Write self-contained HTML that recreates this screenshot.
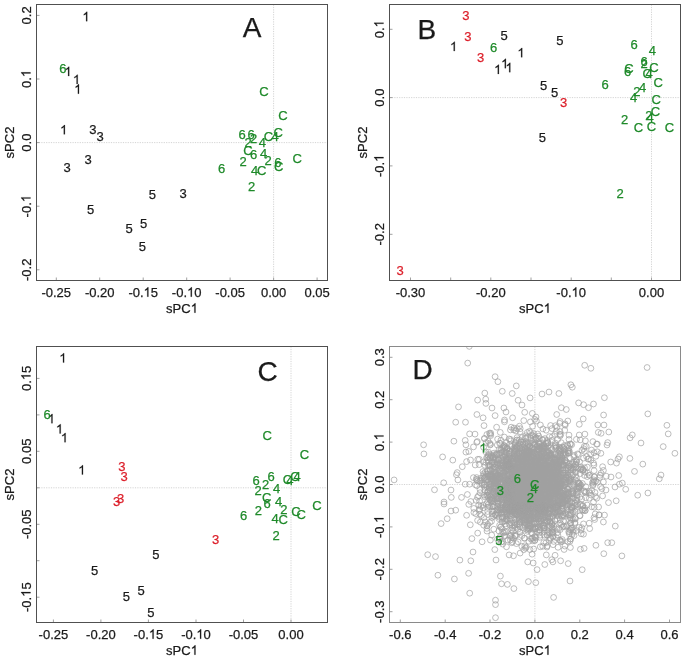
<!DOCTYPE html>
<html><head><meta charset="utf-8"><title>sPCA plots</title>
<style>html,body{margin:0;padding:0;background:#fff;}svg{display:block;will-change:transform;}text{font-family:"Liberation Sans",sans-serif;stroke:currentColor;stroke-width:0.25px;}</style>
</head><body>
<svg width="685" height="659" viewBox="0 0 685 659" font-family="Liberation Sans, sans-serif">
<defs><marker id="m" markerUnits="userSpaceOnUse" markerWidth="10" markerHeight="10" refX="5" refY="5" viewBox="0 0 10 10" overflow="visible"><circle cx="5" cy="5" r="2.9" fill="none" stroke="#a0a0a0" stroke-width="0.7"/></marker></defs>
<rect width="685" height="659" fill="#fff"/>
<line x1="36.5" y1="142.6" x2="327.5" y2="142.6" stroke="#cfcfcf" stroke-width="0.9" stroke-dasharray="1.2 1.2"/>
<line x1="273.6" y1="4.5" x2="273.6" y2="280.5" stroke="#cfcfcf" stroke-width="0.9" stroke-dasharray="1.2 1.2"/>
<line x1="56.3" y1="280.5" x2="56.3" y2="277.5" stroke="#a0a0a0" stroke-width="1"/>
<line x1="99.7" y1="280.5" x2="99.7" y2="277.5" stroke="#a0a0a0" stroke-width="1"/>
<line x1="143.2" y1="280.5" x2="143.2" y2="277.5" stroke="#a0a0a0" stroke-width="1"/>
<line x1="186.7" y1="280.5" x2="186.7" y2="277.5" stroke="#a0a0a0" stroke-width="1"/>
<line x1="230.1" y1="280.5" x2="230.1" y2="277.5" stroke="#a0a0a0" stroke-width="1"/>
<line x1="273.6" y1="280.5" x2="273.6" y2="277.5" stroke="#a0a0a0" stroke-width="1"/>
<line x1="317.1" y1="280.5" x2="317.1" y2="277.5" stroke="#a0a0a0" stroke-width="1"/>
<line x1="36.5" y1="269.8" x2="39.5" y2="269.8" stroke="#a0a0a0" stroke-width="1"/>
<line x1="36.5" y1="206.2" x2="39.5" y2="206.2" stroke="#a0a0a0" stroke-width="1"/>
<line x1="36.5" y1="142.6" x2="39.5" y2="142.6" stroke="#a0a0a0" stroke-width="1"/>
<line x1="36.5" y1="79.0" x2="39.5" y2="79.0" stroke="#a0a0a0" stroke-width="1"/>
<line x1="36.5" y1="15.4" x2="39.5" y2="15.4" stroke="#a0a0a0" stroke-width="1"/>
<rect x="36.5" y="4.5" width="291.0" height="276.0" fill="none" stroke="#505050" stroke-width="1"/>
<text x="41.46" y="296.70" font-size="13" fill="#1a1a1a" color="#1a1a1a">-0.25</text>
<text x="84.92" y="296.70" font-size="13" fill="#1a1a1a" color="#1a1a1a">-0.20</text>
<text x="128.39" y="296.70" font-size="13" fill="#1a1a1a" color="#1a1a1a">-0.</text><text x="150.79" y="296.70" font-size="13" fill="#1a1a1a" color="#1a1a1a">5</text><path d="M148.40 296.70L147.26 296.70L147.26 289.42Q146.85 289.81 146.18 290.21Q145.50 290.60 144.97 290.80L144.97 289.69Q145.93 289.24 146.65 288.60Q147.36 287.96 147.66 287.36L148.40 287.36Z" fill="#1a1a1a" stroke="#1a1a1a" stroke-width="0.2"/>
<text x="171.85" y="296.70" font-size="13" fill="#1a1a1a" color="#1a1a1a">-0.</text><text x="194.26" y="296.70" font-size="13" fill="#1a1a1a" color="#1a1a1a">0</text><path d="M191.87 296.70L190.73 296.70L190.73 289.42Q190.31 289.81 189.64 290.21Q188.97 290.60 188.43 290.80L188.43 289.69Q189.39 289.24 190.11 288.60Q190.83 287.96 191.13 287.36L191.87 287.36Z" fill="#1a1a1a" stroke="#1a1a1a" stroke-width="0.2"/>
<text x="215.32" y="296.70" font-size="13" fill="#1a1a1a" color="#1a1a1a">-0.05</text>
<text x="260.95" y="296.70" font-size="13" fill="#1a1a1a" color="#1a1a1a">0.00</text>
<text x="304.41" y="296.70" font-size="13" fill="#1a1a1a" color="#1a1a1a">0.05</text>
<g transform="translate(30.5,269.8) rotate(-90)"><text x="-11.20" y="0.00" font-size="13" fill="#1a1a1a" color="#1a1a1a">-0.2</text></g>
<g transform="translate(30.5,206.2) rotate(-90)"><text x="-11.20" y="0.00" font-size="13" fill="#1a1a1a" color="#1a1a1a">-0.</text><path d="M8.81 0.00L7.67 0.00L7.67 -7.28Q7.26 -6.89 6.59 -6.49Q5.91 -6.10 5.38 -5.90L5.38 -7.01Q6.34 -7.46 7.06 -8.10Q7.77 -8.74 8.07 -9.34L8.81 -9.34Z" fill="#1a1a1a" stroke="#1a1a1a" stroke-width="0.2"/></g>
<g transform="translate(30.5,142.6) rotate(-90)"><text x="-9.04" y="0.00" font-size="13" fill="#1a1a1a" color="#1a1a1a">0.0</text></g>
<g transform="translate(30.5,79.0) rotate(-90)"><text x="-9.04" y="0.00" font-size="13" fill="#1a1a1a" color="#1a1a1a">0.</text><path d="M6.65 0.00L5.51 0.00L5.51 -7.28Q5.09 -6.89 4.42 -6.49Q3.75 -6.10 3.22 -5.90L3.22 -7.01Q4.17 -7.46 4.89 -8.10Q5.61 -8.74 5.91 -9.34L6.65 -9.34Z" fill="#1a1a1a" stroke="#1a1a1a" stroke-width="0.2"/></g>
<g transform="translate(30.5,15.4) rotate(-90)"><text x="-9.04" y="0.00" font-size="13" fill="#1a1a1a" color="#1a1a1a">0.2</text></g>
<text x="166.11" y="312.70" font-size="13" fill="#1a1a1a" color="#1a1a1a">sPC</text><path d="M195.51 312.70L194.37 312.70L194.37 305.42Q193.95 305.81 193.28 306.21Q192.61 306.60 192.07 306.80L192.07 305.69Q193.03 305.24 193.75 304.60Q194.47 303.96 194.77 303.36L195.51 303.36Z" fill="#1a1a1a" stroke="#1a1a1a" stroke-width="0.2"/>
<g transform="translate(14.1,142.5) rotate(-90)"><text x="-15.89" y="0.00" font-size="13" fill="#1a1a1a" color="#1a1a1a">sPC2</text></g>
<path d="M87.22 21.17L86.08 21.17L86.08 13.89Q85.66 14.28 84.99 14.68Q84.32 15.07 83.78 15.27L83.78 14.16Q84.74 13.71 85.46 13.07Q86.18 12.43 86.48 11.83L87.22 11.83Z" fill="#1a1a1a" stroke="#1a1a1a" stroke-width="0.2"/>
<path d="M69.22 76.07L68.08 76.07L68.08 68.79Q67.66 69.18 66.99 69.58Q66.32 69.97 65.78 70.17L65.78 69.06Q66.74 68.61 67.46 67.97Q68.18 67.33 68.48 66.73L69.22 66.73Z" fill="#1a1a1a" stroke="#1a1a1a" stroke-width="0.2"/>
<path d="M77.72 84.07L76.58 84.07L76.58 76.79Q76.16 77.18 75.49 77.58Q74.82 77.97 74.28 78.17L74.28 77.06Q75.24 76.61 75.96 75.97Q76.68 75.33 76.98 74.73L77.72 74.73Z" fill="#1a1a1a" stroke="#1a1a1a" stroke-width="0.2"/>
<path d="M79.02 93.67L77.88 93.67L77.88 86.39Q77.46 86.78 76.79 87.18Q76.12 87.57 75.58 87.77L75.58 86.66Q76.54 86.21 77.26 85.57Q77.98 84.93 78.28 84.33L79.02 84.33Z" fill="#1a1a1a" stroke="#1a1a1a" stroke-width="0.2"/>
<path d="M64.92 134.37L63.78 134.37L63.78 127.09Q63.36 127.48 62.69 127.88Q62.02 128.27 61.48 128.47L61.48 127.36Q62.44 126.91 63.16 126.27Q63.88 125.63 64.18 125.03L64.92 125.03Z" fill="#1a1a1a" stroke="#1a1a1a" stroke-width="0.2"/>
<text x="89.29" y="134.10" font-size="13" fill="#1a1a1a" color="#1a1a1a">3</text>
<text x="96.48" y="141.40" font-size="13" fill="#1a1a1a" color="#1a1a1a">3</text>
<text x="84.39" y="163.70" font-size="13" fill="#1a1a1a" color="#1a1a1a">3</text>
<text x="63.48" y="172.20" font-size="13" fill="#1a1a1a" color="#1a1a1a">3</text>
<text x="86.98" y="214.40" font-size="13" fill="#1a1a1a" color="#1a1a1a">5</text>
<text x="148.69" y="199.20" font-size="13" fill="#1a1a1a" color="#1a1a1a">5</text>
<text x="179.48" y="198.30" font-size="13" fill="#1a1a1a" color="#1a1a1a">3</text>
<text x="125.48" y="232.60" font-size="13" fill="#1a1a1a" color="#1a1a1a">5</text>
<text x="140.08" y="228.40" font-size="13" fill="#1a1a1a" color="#1a1a1a">5</text>
<text x="138.78" y="250.70" font-size="13" fill="#1a1a1a" color="#1a1a1a">5</text>
<text x="59.18" y="72.70" font-size="13" fill="#1f8a2a" color="#1f8a2a">6</text>
<text x="259.31" y="96.40" font-size="13" fill="#1f8a2a" color="#1f8a2a">C</text>
<text x="278.31" y="120.30" font-size="13" fill="#1f8a2a" color="#1f8a2a">C</text>
<text x="273.61" y="136.80" font-size="13" fill="#1f8a2a" color="#1f8a2a">C</text>
<text x="238.38" y="139.40" font-size="13" fill="#1f8a2a" color="#1f8a2a">6</text>
<text x="247.48" y="138.70" font-size="13" fill="#1f8a2a" color="#1f8a2a">6</text>
<text x="249.98" y="143.10" font-size="13" fill="#1f8a2a" color="#1f8a2a">2</text>
<text x="244.38" y="147.00" font-size="13" fill="#1f8a2a" color="#1f8a2a">2</text>
<text x="258.69" y="146.80" font-size="13" fill="#1f8a2a" color="#1f8a2a">4</text>
<text x="263.81" y="141.20" font-size="13" fill="#1f8a2a" color="#1f8a2a">C</text>
<text x="271.38" y="140.50" font-size="13" fill="#1f8a2a" color="#1f8a2a">4</text>
<text x="243.31" y="155.30" font-size="13" fill="#1f8a2a" color="#1f8a2a">C</text>
<text x="250.08" y="158.60" font-size="13" fill="#1f8a2a" color="#1f8a2a">6</text>
<text x="259.88" y="158.20" font-size="13" fill="#1f8a2a" color="#1f8a2a">4</text>
<text x="239.38" y="165.70" font-size="13" fill="#1f8a2a" color="#1f8a2a">2</text>
<text x="264.38" y="165.30" font-size="13" fill="#1f8a2a" color="#1f8a2a">2</text>
<text x="274.19" y="166.60" font-size="13" fill="#1f8a2a" color="#1f8a2a">6</text>
<text x="274.01" y="171.40" font-size="13" fill="#1f8a2a" color="#1f8a2a">C</text>
<text x="292.41" y="162.50" font-size="13" fill="#1f8a2a" color="#1f8a2a">C</text>
<text x="250.98" y="174.80" font-size="13" fill="#1f8a2a" color="#1f8a2a">4</text>
<text x="257.11" y="175.20" font-size="13" fill="#1f8a2a" color="#1f8a2a">C</text>
<text x="247.98" y="190.90" font-size="13" fill="#1f8a2a" color="#1f8a2a">2</text>
<text x="217.88" y="172.80" font-size="13" fill="#1f8a2a" color="#1f8a2a">6</text>
<text x="242.66" y="37.45" font-size="28" fill="#1a1a1a" color="#1a1a1a">A</text>
<line x1="389.5" y1="97.6" x2="680.5" y2="97.6" stroke="#cfcfcf" stroke-width="0.9" stroke-dasharray="1.2 1.2"/>
<line x1="651.5" y1="4.5" x2="651.5" y2="280.5" stroke="#cfcfcf" stroke-width="0.9" stroke-dasharray="1.2 1.2"/>
<line x1="410.5" y1="280.5" x2="410.5" y2="277.5" stroke="#a0a0a0" stroke-width="1"/>
<line x1="450.7" y1="280.5" x2="450.7" y2="277.5" stroke="#a0a0a0" stroke-width="1"/>
<line x1="490.8" y1="280.5" x2="490.8" y2="277.5" stroke="#a0a0a0" stroke-width="1"/>
<line x1="531.0" y1="280.5" x2="531.0" y2="277.5" stroke="#a0a0a0" stroke-width="1"/>
<line x1="571.2" y1="280.5" x2="571.2" y2="277.5" stroke="#a0a0a0" stroke-width="1"/>
<line x1="611.3" y1="280.5" x2="611.3" y2="277.5" stroke="#a0a0a0" stroke-width="1"/>
<line x1="651.5" y1="280.5" x2="651.5" y2="277.5" stroke="#a0a0a0" stroke-width="1"/>
<line x1="389.5" y1="234.3" x2="392.5" y2="234.3" stroke="#a0a0a0" stroke-width="1"/>
<line x1="389.5" y1="165.9" x2="392.5" y2="165.9" stroke="#a0a0a0" stroke-width="1"/>
<line x1="389.5" y1="97.6" x2="392.5" y2="97.6" stroke="#a0a0a0" stroke-width="1"/>
<line x1="389.5" y1="29.3" x2="392.5" y2="29.3" stroke="#a0a0a0" stroke-width="1"/>
<rect x="389.5" y="4.5" width="291.0" height="276.0" fill="none" stroke="#505050" stroke-width="1"/>
<text x="395.69" y="296.70" font-size="13" fill="#1a1a1a" color="#1a1a1a">-0.30</text>
<text x="476.02" y="296.70" font-size="13" fill="#1a1a1a" color="#1a1a1a">-0.20</text>
<text x="556.35" y="296.70" font-size="13" fill="#1a1a1a" color="#1a1a1a">-0.</text><text x="578.76" y="296.70" font-size="13" fill="#1a1a1a" color="#1a1a1a">0</text><path d="M576.37 296.70L575.23 296.70L575.23 289.42Q574.81 289.81 574.14 290.21Q573.47 290.60 572.93 290.80L572.93 289.69Q573.89 289.24 574.61 288.60Q575.33 287.96 575.63 287.36L576.37 287.36Z" fill="#1a1a1a" stroke="#1a1a1a" stroke-width="0.2"/>
<text x="638.85" y="296.70" font-size="13" fill="#1a1a1a" color="#1a1a1a">0.00</text>
<g transform="translate(383.5,234.3) rotate(-90)"><text x="-11.20" y="0.00" font-size="13" fill="#1a1a1a" color="#1a1a1a">-0.2</text></g>
<g transform="translate(383.5,165.9) rotate(-90)"><text x="-11.20" y="0.00" font-size="13" fill="#1a1a1a" color="#1a1a1a">-0.</text><path d="M8.81 0.00L7.67 0.00L7.67 -7.28Q7.26 -6.89 6.59 -6.49Q5.91 -6.10 5.38 -5.90L5.38 -7.01Q6.34 -7.46 7.06 -8.10Q7.77 -8.74 8.07 -9.34L8.81 -9.34Z" fill="#1a1a1a" stroke="#1a1a1a" stroke-width="0.2"/></g>
<g transform="translate(383.5,97.6) rotate(-90)"><text x="-9.04" y="0.00" font-size="13" fill="#1a1a1a" color="#1a1a1a">0.0</text></g>
<g transform="translate(383.5,29.3) rotate(-90)"><text x="-9.04" y="0.00" font-size="13" fill="#1a1a1a" color="#1a1a1a">0.</text><path d="M6.65 0.00L5.51 0.00L5.51 -7.28Q5.09 -6.89 4.42 -6.49Q3.75 -6.10 3.22 -5.90L3.22 -7.01Q4.17 -7.46 4.89 -8.10Q5.61 -8.74 5.91 -9.34L6.65 -9.34Z" fill="#1a1a1a" stroke="#1a1a1a" stroke-width="0.2"/></g>
<text x="519.11" y="312.70" font-size="13" fill="#1a1a1a" color="#1a1a1a">sPC</text><path d="M548.51 312.70L547.37 312.70L547.37 305.42Q546.95 305.81 546.28 306.21Q545.61 306.60 545.07 306.80L545.07 305.69Q546.03 305.24 546.75 304.60Q547.47 303.96 547.77 303.36L548.51 303.36Z" fill="#1a1a1a" stroke="#1a1a1a" stroke-width="0.2"/>
<g transform="translate(367.1,142.5) rotate(-90)"><text x="-15.89" y="0.00" font-size="13" fill="#1a1a1a" color="#1a1a1a">sPC2</text></g>
<path d="M454.82 51.07L453.68 51.07L453.68 43.79Q453.26 44.18 452.59 44.58Q451.92 44.97 451.38 45.17L451.38 44.06Q452.34 43.61 453.06 42.97Q453.78 42.33 454.08 41.73L454.82 41.73Z" fill="#1a1a1a" stroke="#1a1a1a" stroke-width="0.2"/>
<text x="500.58" y="40.30" font-size="13" fill="#1a1a1a" color="#1a1a1a">5</text>
<path d="M522.22 57.27L521.08 57.27L521.08 49.99Q520.66 50.38 519.99 50.78Q519.32 51.17 518.78 51.37L518.78 50.26Q519.74 49.81 520.46 49.17Q521.18 48.53 521.48 47.93L522.22 47.93Z" fill="#1a1a1a" stroke="#1a1a1a" stroke-width="0.2"/>
<path d="M498.92 73.97L497.78 73.97L497.78 66.69Q497.36 67.08 496.69 67.48Q496.02 67.87 495.48 68.07L495.48 66.96Q496.44 66.51 497.16 65.87Q497.88 65.23 498.18 64.63L498.92 64.63Z" fill="#1a1a1a" stroke="#1a1a1a" stroke-width="0.2"/>
<path d="M505.92 68.17L504.78 68.17L504.78 60.89Q504.36 61.28 503.69 61.68Q503.02 62.07 502.48 62.27L502.48 61.16Q503.44 60.71 504.16 60.07Q504.88 59.43 505.18 58.83L505.92 58.83Z" fill="#1a1a1a" stroke="#1a1a1a" stroke-width="0.2"/>
<path d="M510.32 72.17L509.18 72.17L509.18 64.89Q508.76 65.28 508.09 65.68Q507.42 66.07 506.88 66.27L506.88 65.16Q507.84 64.71 508.56 64.07Q509.28 63.43 509.58 62.83L510.32 62.83Z" fill="#1a1a1a" stroke="#1a1a1a" stroke-width="0.2"/>
<text x="556.28" y="45.20" font-size="13" fill="#1a1a1a" color="#1a1a1a">5</text>
<text x="540.09" y="90.10" font-size="13" fill="#1a1a1a" color="#1a1a1a">5</text>
<text x="550.99" y="97.40" font-size="13" fill="#1a1a1a" color="#1a1a1a">5</text>
<text x="538.68" y="141.50" font-size="13" fill="#1a1a1a" color="#1a1a1a">5</text>
<text x="462.28" y="20.30" font-size="13" fill="#dc1f2a" color="#dc1f2a">3</text>
<text x="464.19" y="41.00" font-size="13" fill="#dc1f2a" color="#dc1f2a">3</text>
<text x="476.88" y="61.80" font-size="13" fill="#dc1f2a" color="#dc1f2a">3</text>
<text x="559.99" y="106.50" font-size="13" fill="#dc1f2a" color="#dc1f2a">3</text>
<text x="396.38" y="274.80" font-size="13" fill="#dc1f2a" color="#dc1f2a">3</text>
<text x="490.08" y="51.70" font-size="13" fill="#1f8a2a" color="#1f8a2a">6</text>
<text x="630.59" y="48.60" font-size="13" fill="#1f8a2a" color="#1f8a2a">6</text>
<text x="648.78" y="55.00" font-size="13" fill="#1f8a2a" color="#1f8a2a">4</text>
<text x="640.59" y="65.60" font-size="13" fill="#1f8a2a" color="#1f8a2a">6</text>
<text x="640.59" y="67.50" font-size="13" fill="#1f8a2a" color="#1f8a2a">2</text>
<text x="649.21" y="71.50" font-size="13" fill="#1f8a2a" color="#1f8a2a">C</text>
<text x="623.88" y="76.00" font-size="13" fill="#1f8a2a" color="#1f8a2a">6</text>
<text x="624.31" y="73.00" font-size="13" fill="#1f8a2a" color="#1f8a2a">C</text>
<text x="642.61" y="78.40" font-size="13" fill="#1f8a2a" color="#1f8a2a">C</text>
<text x="645.38" y="77.50" font-size="13" fill="#1f8a2a" color="#1f8a2a">4</text>
<text x="653.61" y="87.20" font-size="13" fill="#1f8a2a" color="#1f8a2a">C</text>
<text x="601.38" y="89.00" font-size="13" fill="#1f8a2a" color="#1f8a2a">6</text>
<text x="638.99" y="92.10" font-size="13" fill="#1f8a2a" color="#1f8a2a">4</text>
<text x="633.18" y="96.10" font-size="13" fill="#1f8a2a" color="#1f8a2a">2</text>
<text x="629.99" y="101.70" font-size="13" fill="#1f8a2a" color="#1f8a2a">4</text>
<text x="651.61" y="103.50" font-size="13" fill="#1f8a2a" color="#1f8a2a">C</text>
<text x="650.81" y="116.30" font-size="13" fill="#1f8a2a" color="#1f8a2a">C</text>
<text x="645.18" y="119.80" font-size="13" fill="#1f8a2a" color="#1f8a2a">2</text>
<text x="646.59" y="122.40" font-size="13" fill="#1f8a2a" color="#1f8a2a">4</text>
<text x="621.09" y="123.60" font-size="13" fill="#1f8a2a" color="#1f8a2a">2</text>
<text x="633.71" y="132.10" font-size="13" fill="#1f8a2a" color="#1f8a2a">C</text>
<text x="646.71" y="130.90" font-size="13" fill="#1f8a2a" color="#1f8a2a">C</text>
<text x="664.81" y="132.10" font-size="13" fill="#1f8a2a" color="#1f8a2a">C</text>
<text x="616.38" y="198.30" font-size="13" fill="#1f8a2a" color="#1f8a2a">2</text>
<text x="417.46" y="39.05" font-size="28" fill="#1a1a1a" color="#1a1a1a">B</text>
<line x1="36.5" y1="487.8" x2="327.5" y2="487.8" stroke="#cfcfcf" stroke-width="0.9" stroke-dasharray="1.2 1.2"/>
<line x1="291" y1="346.5" x2="291" y2="622.5" stroke="#cfcfcf" stroke-width="0.9" stroke-dasharray="1.2 1.2"/>
<line x1="53.4" y1="622.5" x2="53.4" y2="619.5" stroke="#a0a0a0" stroke-width="1"/>
<line x1="100.9" y1="622.5" x2="100.9" y2="619.5" stroke="#a0a0a0" stroke-width="1"/>
<line x1="148.4" y1="622.5" x2="148.4" y2="619.5" stroke="#a0a0a0" stroke-width="1"/>
<line x1="196.0" y1="622.5" x2="196.0" y2="619.5" stroke="#a0a0a0" stroke-width="1"/>
<line x1="243.5" y1="622.5" x2="243.5" y2="619.5" stroke="#a0a0a0" stroke-width="1"/>
<line x1="291.0" y1="622.5" x2="291.0" y2="619.5" stroke="#a0a0a0" stroke-width="1"/>
<line x1="36.5" y1="597.2" x2="39.5" y2="597.2" stroke="#a0a0a0" stroke-width="1"/>
<line x1="36.5" y1="560.7" x2="39.5" y2="560.7" stroke="#a0a0a0" stroke-width="1"/>
<line x1="36.5" y1="524.3" x2="39.5" y2="524.3" stroke="#a0a0a0" stroke-width="1"/>
<line x1="36.5" y1="487.8" x2="39.5" y2="487.8" stroke="#a0a0a0" stroke-width="1"/>
<line x1="36.5" y1="451.3" x2="39.5" y2="451.3" stroke="#a0a0a0" stroke-width="1"/>
<line x1="36.5" y1="414.9" x2="39.5" y2="414.9" stroke="#a0a0a0" stroke-width="1"/>
<line x1="36.5" y1="378.4" x2="39.5" y2="378.4" stroke="#a0a0a0" stroke-width="1"/>
<rect x="36.5" y="346.5" width="291.0" height="276.0" fill="none" stroke="#505050" stroke-width="1"/>
<text x="38.58" y="638.70" font-size="13" fill="#1a1a1a" color="#1a1a1a">-0.25</text>
<text x="86.10" y="638.70" font-size="13" fill="#1a1a1a" color="#1a1a1a">-0.20</text>
<text x="133.62" y="638.70" font-size="13" fill="#1a1a1a" color="#1a1a1a">-0.</text><text x="156.03" y="638.70" font-size="13" fill="#1a1a1a" color="#1a1a1a">5</text><path d="M153.64 638.70L152.50 638.70L152.50 631.42Q152.08 631.81 151.41 632.21Q150.74 632.60 150.20 632.80L150.20 631.69Q151.16 631.24 151.88 630.60Q152.60 629.96 152.90 629.36L153.64 629.36Z" fill="#1a1a1a" stroke="#1a1a1a" stroke-width="0.2"/>
<text x="181.14" y="638.70" font-size="13" fill="#1a1a1a" color="#1a1a1a">-0.</text><text x="203.55" y="638.70" font-size="13" fill="#1a1a1a" color="#1a1a1a">0</text><path d="M201.16 638.70L200.02 638.70L200.02 631.42Q199.60 631.81 198.93 632.21Q198.26 632.60 197.72 632.80L197.72 631.69Q198.68 631.24 199.40 630.60Q200.12 629.96 200.42 629.36L201.16 629.36Z" fill="#1a1a1a" stroke="#1a1a1a" stroke-width="0.2"/>
<text x="228.66" y="638.70" font-size="13" fill="#1a1a1a" color="#1a1a1a">-0.05</text>
<text x="278.35" y="638.70" font-size="13" fill="#1a1a1a" color="#1a1a1a">0.00</text>
<g transform="translate(30.5,597.2) rotate(-90)"><text x="-14.82" y="0.00" font-size="13" fill="#1a1a1a" color="#1a1a1a">-0.</text><text x="7.59" y="0.00" font-size="13" fill="#1a1a1a" color="#1a1a1a">5</text><path d="M5.20 0.00L4.06 0.00L4.06 -7.28Q3.64 -6.89 2.97 -6.49Q2.30 -6.10 1.76 -5.90L1.76 -7.01Q2.72 -7.46 3.44 -8.10Q4.16 -8.74 4.46 -9.34L5.20 -9.34Z" fill="#1a1a1a" stroke="#1a1a1a" stroke-width="0.2"/></g>
<g transform="translate(30.5,524.3) rotate(-90)"><text x="-14.82" y="0.00" font-size="13" fill="#1a1a1a" color="#1a1a1a">-0.05</text></g>
<g transform="translate(30.5,451.3) rotate(-90)"><text x="-12.65" y="0.00" font-size="13" fill="#1a1a1a" color="#1a1a1a">0.05</text></g>
<g transform="translate(30.5,378.4) rotate(-90)"><text x="-12.65" y="0.00" font-size="13" fill="#1a1a1a" color="#1a1a1a">0.</text><text x="5.42" y="0.00" font-size="13" fill="#1a1a1a" color="#1a1a1a">5</text><path d="M3.03 0.00L1.89 0.00L1.89 -7.28Q1.48 -6.89 0.81 -6.49Q0.13 -6.10 -0.40 -5.90L-0.40 -7.01Q0.56 -7.46 1.28 -8.10Q1.99 -8.74 2.29 -9.34L3.03 -9.34Z" fill="#1a1a1a" stroke="#1a1a1a" stroke-width="0.2"/></g>
<text x="166.11" y="654.70" font-size="13" fill="#1a1a1a" color="#1a1a1a">sPC</text><path d="M195.51 654.70L194.37 654.70L194.37 647.42Q193.95 647.81 193.28 648.21Q192.61 648.60 192.07 648.80L192.07 647.69Q193.03 647.24 193.75 646.60Q194.47 645.96 194.77 645.36L195.51 645.36Z" fill="#1a1a1a" stroke="#1a1a1a" stroke-width="0.2"/>
<g transform="translate(14.1,484.5) rotate(-90)"><text x="-15.89" y="0.00" font-size="13" fill="#1a1a1a" color="#1a1a1a">sPC2</text></g>
<path d="M64.12 362.57L62.98 362.57L62.98 355.29Q62.56 355.68 61.89 356.08Q61.22 356.47 60.68 356.67L60.68 355.56Q61.64 355.11 62.36 354.47Q63.08 353.83 63.38 353.23L64.12 353.23Z" fill="#1a1a1a" stroke="#1a1a1a" stroke-width="0.2"/>
<path d="M52.52 423.27L51.38 423.27L51.38 415.99Q50.96 416.38 50.29 416.78Q49.62 417.17 49.08 417.37L49.08 416.26Q50.04 415.81 50.76 415.17Q51.48 414.53 51.78 413.93L52.52 413.93Z" fill="#1a1a1a" stroke="#1a1a1a" stroke-width="0.2"/>
<path d="M60.72 433.47L59.58 433.47L59.58 426.19Q59.16 426.58 58.49 426.98Q57.82 427.37 57.28 427.57L57.28 426.46Q58.24 426.01 58.96 425.37Q59.68 424.73 59.98 424.13L60.72 424.13Z" fill="#1a1a1a" stroke="#1a1a1a" stroke-width="0.2"/>
<path d="M65.62 442.27L64.48 442.27L64.48 434.99Q64.06 435.38 63.39 435.78Q62.72 436.17 62.18 436.37L62.18 435.26Q63.14 434.81 63.86 434.17Q64.58 433.53 64.88 432.93L65.62 432.93Z" fill="#1a1a1a" stroke="#1a1a1a" stroke-width="0.2"/>
<path d="M83.02 474.57L81.88 474.57L81.88 467.29Q81.46 467.68 80.79 468.08Q80.12 468.47 79.58 468.67L79.58 467.56Q80.54 467.11 81.26 466.47Q81.98 465.83 82.28 465.23L83.02 465.23Z" fill="#1a1a1a" stroke="#1a1a1a" stroke-width="0.2"/>
<text x="152.19" y="558.50" font-size="13" fill="#1a1a1a" color="#1a1a1a">5</text>
<text x="90.89" y="575.00" font-size="13" fill="#1a1a1a" color="#1a1a1a">5</text>
<text x="137.48" y="595.30" font-size="13" fill="#1a1a1a" color="#1a1a1a">5</text>
<text x="122.69" y="601.00" font-size="13" fill="#1a1a1a" color="#1a1a1a">5</text>
<text x="147.28" y="617.00" font-size="13" fill="#1a1a1a" color="#1a1a1a">5</text>
<text x="118.29" y="470.50" font-size="13" fill="#dc1f2a" color="#dc1f2a">3</text>
<text x="120.48" y="481.40" font-size="13" fill="#dc1f2a" color="#dc1f2a">3</text>
<text x="116.98" y="502.50" font-size="13" fill="#dc1f2a" color="#dc1f2a">3</text>
<text x="112.98" y="505.50" font-size="13" fill="#dc1f2a" color="#dc1f2a">3</text>
<text x="212.08" y="543.70" font-size="13" fill="#dc1f2a" color="#dc1f2a">3</text>
<text x="43.59" y="418.50" font-size="13" fill="#1f8a2a" color="#1f8a2a">6</text>
<text x="262.51" y="439.50" font-size="13" fill="#1f8a2a" color="#1f8a2a">C</text>
<text x="299.71" y="458.50" font-size="13" fill="#1f8a2a" color="#1f8a2a">C</text>
<text x="252.38" y="484.70" font-size="13" fill="#1f8a2a" color="#1f8a2a">6</text>
<text x="267.49" y="480.70" font-size="13" fill="#1f8a2a" color="#1f8a2a">6</text>
<text x="261.99" y="489.30" font-size="13" fill="#1f8a2a" color="#1f8a2a">2</text>
<text x="254.58" y="494.90" font-size="13" fill="#1f8a2a" color="#1f8a2a">2</text>
<text x="272.88" y="493.10" font-size="13" fill="#1f8a2a" color="#1f8a2a">4</text>
<text x="282.81" y="484.40" font-size="13" fill="#1f8a2a" color="#1f8a2a">C</text>
<text x="286.28" y="484.50" font-size="13" fill="#1f8a2a" color="#1f8a2a">4</text>
<text x="290.31" y="480.50" font-size="13" fill="#1f8a2a" color="#1f8a2a">C</text>
<text x="293.49" y="480.90" font-size="13" fill="#1f8a2a" color="#1f8a2a">4</text>
<text x="261.91" y="501.70" font-size="13" fill="#1f8a2a" color="#1f8a2a">C</text>
<text x="263.49" y="507.50" font-size="13" fill="#1f8a2a" color="#1f8a2a">6</text>
<text x="274.88" y="506.30" font-size="13" fill="#1f8a2a" color="#1f8a2a">4</text>
<text x="254.69" y="514.60" font-size="13" fill="#1f8a2a" color="#1f8a2a">2</text>
<text x="239.88" y="519.50" font-size="13" fill="#1f8a2a" color="#1f8a2a">6</text>
<text x="280.28" y="514.20" font-size="13" fill="#1f8a2a" color="#1f8a2a">2</text>
<text x="271.49" y="522.80" font-size="13" fill="#1f8a2a" color="#1f8a2a">4</text>
<text x="278.61" y="523.50" font-size="13" fill="#1f8a2a" color="#1f8a2a">C</text>
<text x="291.31" y="515.50" font-size="13" fill="#1f8a2a" color="#1f8a2a">C</text>
<text x="296.51" y="518.50" font-size="13" fill="#1f8a2a" color="#1f8a2a">C</text>
<text x="312.21" y="510.10" font-size="13" fill="#1f8a2a" color="#1f8a2a">C</text>
<text x="272.58" y="540.30" font-size="13" fill="#1f8a2a" color="#1f8a2a">2</text>
<text x="257.59" y="381.25" font-size="28" fill="#1a1a1a" color="#1a1a1a">C</text>
<line x1="389.5" y1="484.5" x2="680.5" y2="484.5" stroke="#cfcfcf" stroke-width="0.9" stroke-dasharray="1.2 1.2"/>
<line x1="534.9" y1="346.5" x2="534.9" y2="622.5" stroke="#cfcfcf" stroke-width="0.9" stroke-dasharray="1.2 1.2"/>
<line x1="400.3" y1="622.5" x2="400.3" y2="619.5" stroke="#a0a0a0" stroke-width="1"/>
<line x1="445.2" y1="622.5" x2="445.2" y2="619.5" stroke="#a0a0a0" stroke-width="1"/>
<line x1="490.0" y1="622.5" x2="490.0" y2="619.5" stroke="#a0a0a0" stroke-width="1"/>
<line x1="534.9" y1="622.5" x2="534.9" y2="619.5" stroke="#a0a0a0" stroke-width="1"/>
<line x1="579.8" y1="622.5" x2="579.8" y2="619.5" stroke="#a0a0a0" stroke-width="1"/>
<line x1="624.6" y1="622.5" x2="624.6" y2="619.5" stroke="#a0a0a0" stroke-width="1"/>
<line x1="669.5" y1="622.5" x2="669.5" y2="619.5" stroke="#a0a0a0" stroke-width="1"/>
<line x1="389.5" y1="611.7" x2="392.5" y2="611.7" stroke="#a0a0a0" stroke-width="1"/>
<line x1="389.5" y1="569.3" x2="392.5" y2="569.3" stroke="#a0a0a0" stroke-width="1"/>
<line x1="389.5" y1="526.9" x2="392.5" y2="526.9" stroke="#a0a0a0" stroke-width="1"/>
<line x1="389.5" y1="484.5" x2="392.5" y2="484.5" stroke="#a0a0a0" stroke-width="1"/>
<line x1="389.5" y1="442.1" x2="392.5" y2="442.1" stroke="#a0a0a0" stroke-width="1"/>
<line x1="389.5" y1="399.7" x2="392.5" y2="399.7" stroke="#a0a0a0" stroke-width="1"/>
<line x1="389.5" y1="357.3" x2="392.5" y2="357.3" stroke="#a0a0a0" stroke-width="1"/>
<rect x="389.5" y="346.5" width="291.0" height="276.0" fill="none" stroke="#8a8a8a" stroke-width="1"/>
<text x="389.12" y="638.70" font-size="13" fill="#1a1a1a" color="#1a1a1a">-0.6</text>
<text x="433.98" y="638.70" font-size="13" fill="#1a1a1a" color="#1a1a1a">-0.4</text>
<text x="478.84" y="638.70" font-size="13" fill="#1a1a1a" color="#1a1a1a">-0.2</text>
<text x="525.86" y="638.70" font-size="13" fill="#1a1a1a" color="#1a1a1a">0.0</text>
<text x="570.72" y="638.70" font-size="13" fill="#1a1a1a" color="#1a1a1a">0.2</text>
<text x="615.58" y="638.70" font-size="13" fill="#1a1a1a" color="#1a1a1a">0.4</text>
<text x="660.44" y="638.70" font-size="13" fill="#1a1a1a" color="#1a1a1a">0.6</text>
<g transform="translate(383.5,611.7) rotate(-90)"><text x="-11.20" y="0.00" font-size="13" fill="#1a1a1a" color="#1a1a1a">-0.3</text></g>
<g transform="translate(383.5,569.3) rotate(-90)"><text x="-11.20" y="0.00" font-size="13" fill="#1a1a1a" color="#1a1a1a">-0.2</text></g>
<g transform="translate(383.5,526.9) rotate(-90)"><text x="-11.20" y="0.00" font-size="13" fill="#1a1a1a" color="#1a1a1a">-0.</text><path d="M8.81 0.00L7.67 0.00L7.67 -7.28Q7.26 -6.89 6.59 -6.49Q5.91 -6.10 5.38 -5.90L5.38 -7.01Q6.34 -7.46 7.06 -8.10Q7.77 -8.74 8.07 -9.34L8.81 -9.34Z" fill="#1a1a1a" stroke="#1a1a1a" stroke-width="0.2"/></g>
<g transform="translate(383.5,484.5) rotate(-90)"><text x="-9.04" y="0.00" font-size="13" fill="#1a1a1a" color="#1a1a1a">0.0</text></g>
<g transform="translate(383.5,442.1) rotate(-90)"><text x="-9.04" y="0.00" font-size="13" fill="#1a1a1a" color="#1a1a1a">0.</text><path d="M6.65 0.00L5.51 0.00L5.51 -7.28Q5.09 -6.89 4.42 -6.49Q3.75 -6.10 3.22 -5.90L3.22 -7.01Q4.17 -7.46 4.89 -8.10Q5.61 -8.74 5.91 -9.34L6.65 -9.34Z" fill="#1a1a1a" stroke="#1a1a1a" stroke-width="0.2"/></g>
<g transform="translate(383.5,399.7) rotate(-90)"><text x="-9.04" y="0.00" font-size="13" fill="#1a1a1a" color="#1a1a1a">0.2</text></g>
<g transform="translate(383.5,357.3) rotate(-90)"><text x="-9.04" y="0.00" font-size="13" fill="#1a1a1a" color="#1a1a1a">0.3</text></g>
<text x="519.11" y="654.70" font-size="13" fill="#1a1a1a" color="#1a1a1a">sPC</text><path d="M548.51 654.70L547.37 654.70L547.37 647.42Q546.95 647.81 546.28 648.21Q545.61 648.60 545.07 648.80L545.07 647.69Q546.03 647.24 546.75 646.60Q547.47 645.96 547.77 645.36L548.51 645.36Z" fill="#1a1a1a" stroke="#1a1a1a" stroke-width="0.2"/>
<g transform="translate(367.1,484.5) rotate(-90)"><text x="-15.89" y="0.00" font-size="13" fill="#1a1a1a" color="#1a1a1a">sPC2</text></g>
<clipPath id="dc"><rect x="389.5" y="346.5" width="291.0" height="276.0"/></clipPath><g clip-path="url(#dc)"><path d="M538.8 503.6 534.9 481.1 510.4 540.0 611.8 542.7 579.6 461.9 529.0 523.0 536.4 496.3 505.1 464.9 528.1 526.2 547.4 532.7 544.2 492.5 555.4 425.7 557.2 510.5 531.3 505.8 582.2 510.0 517.8 458.0 523.7 485.1 497.9 477.0 569.0 448.1 529.6 496.2 549.9 498.9 577.3 494.7 534.3 471.8 546.2 477.6 561.1 463.0 543.4 465.8 548.6 513.6 521.9 546.5 625.7 489.3 522.9 476.3 512.3 473.8 526.7 456.4 567.6 489.1 519.7 521.9 525.0 478.5 550.5 454.6 587.4 467.1 467.4 494.5 535.9 478.4 557.8 487.0 538.2 450.0 570.7 469.6 522.4 461.9 572.0 490.4 511.4 494.3 520.1 526.8 548.4 466.2 493.7 486.2 500.6 482.2 564.2 491.2 511.2 487.3 566.7 493.9 490.1 484.3 608.5 502.6 528.4 473.3 530.1 451.0 514.7 487.2 522.4 478.3 520.1 504.1 557.1 468.9 531.2 461.6 661 475 525.9 501.5 560.0 522.8 514.2 469.8 589.2 523.2 545.3 495.2 534.5 536.5 560.0 491.2 510.8 482.4 559.6 504.1 511.3 533.6 465.9 444.8 489.0 454.0 512.0 486.1 511.7 494.3 484.5 438.4 559.9 476.5 517.4 490.2 469.6 484.2 508.1 469.0 534.8 491.4 526.3 455.2 619.4 456.8 516.6 480.0 556.5 507.6 530.4 518.8 525.9 468.9 543.4 448.7 533.5 439.9 546.2 430.2 465.2 484.2 552.5 485.0 525.1 496.3 545.5 506.2 559.0 501.4 557.9 486.8 542.8 439.5 548.5 456.3 501.7 504.5 549.2 485.0 548.6 486.0 553.4 535.7 489.9 469.3 583.2 469.5 471.9 538.6 520.0 502.8 593.0 484.4 495.8 478.8 562.3 499.8 555.2 465.0 519.6 501.8 521.7 482.8 541.0 453.6 549.3 463.0 535.2 485.4 548.3 445.7 495.5 617.7 483.9 495.1 558.1 475.6 506.6 502.7 559.9 461.7 517.7 467.4 582.9 505.5 494.2 490.7 495.5 473.7 444 504 495.1 376.7 537.4 489.0 566.6 499.0 540.7 481.9 502.6 504.9 526.3 529.3 527.3 442.9 546.4 481.3 496.2 464.4 554.9 471.7 522.9 496.1 513.9 588.6 518.4 456.5 565.8 454.3 528.7 528.4 506.0 469.5 541.5 474.7 567.7 445.7 508.4 470.0 549.3 499.0 495.8 459.1 572.7 493.4 528.4 499.0 545.5 458.6 513.5 555.8 484.4 438.7 551.7 458.0 534.5 501.7 565.2 498.4 528.8 468.6 519.9 497.1 512.4 527.7 511.4 487.5 519.1 524.1 511.1 488.2 544.1 445.7 576.5 500.2 529.7 512.5 493.8 529.2 549.4 436.6 531.1 496.2 519.0 484.5 575.9 472.1 557.4 512.1 539.1 442.3 531.9 451.8 519.2 487.8 504.5 421.8 547.7 467.2 521.3 480.3 485.3 484.7 505.3 446.8 516.1 476.3 494.6 489.0 526.3 466.3 560.2 480.2 554.6 453.6 521.9 513.8 561.6 483.5 518.9 487.3 532.0 473.3 544.0 472.8 550.3 460.7 527.2 457.8 521.1 441.6 530.4 513.8 558.6 511.3 538.7 438.3 497.6 462.6 556.9 470.1 591.2 495.1 515.7 508.6 540.7 508.9 554.9 489.5 493.6 488.2 521.8 456.4 533.5 494.9 513.1 479.3 536.1 438.3 531.0 496.3 486.8 486.8 505.3 479.1 555.6 445.9 509.1 495.2 526.8 485.9 593.5 502.2 537.1 488.7 549.4 469.9 546.6 466.8 512.5 469.8 518.7 477.9 485.7 399.2 529.4 475.1 544.2 511.2 552.4 436.5 524.9 482.7 572.3 387.2 515.2 468.8 524.1 452.5 543.9 489.3 503.0 508.6 523.0 504.1 517.0 472.6 531.9 491.2 564.2 496.4 541.0 461.2 534.2 515.5 541.7 484.5 523.4 491.7 563.8 482.0 497.9 482.0 567.5 503.1 565.4 474.9 540.9 496.0 531.5 511.1 526.0 463.8 548.1 469.4 580.4 469.3 562.9 473.2 544.4 523.4 508.5 464.6 543.5 476.3 524.3 491.5 584.5 467.8 551.4 454.1 540.8 495.7 555.8 494.3 526.0 485.2 545.0 504.8 528.7 494.2 524.6 520.3 520.1 553.1 557.0 471.3 583.5 534.2 603.8 553.7 552.7 505.9 666.9 425.3 548.9 465.8 540.7 511.1 522.9 460.8 487.2 471.0 484.4 484.2 521.9 489.9 566.4 483.3 538.4 494.5 564.4 466.1 497.0 512.5 506.4 492.3 494.3 471.1 540.0 490.7 511.1 478.3 530.9 477.7 545.2 486.3 590.9 460.2 559.0 463.7 543.0 460.8 518.0 503.2 547.8 478.6 563.3 472.7 576.7 461.6 510.1 487.6 507.7 479.2 579.3 487.6 455.7 422.2 498.9 531.0 517.8 464.9 546.0 463.7 519.3 497.2 546.9 479.6 518.8 483.0 494.4 467.3 545.6 507.0 507.7 479.5 489.7 443.3 524.3 464.6 524.8 522.8 535.0 474.6 575.2 518.0 476.9 414.5 506.0 510.0 520.8 457.4 531.4 483.3 542.6 451.1 519.4 462.6 537.5 476.6 554.5 459.7 545.1 464.5 567.8 421.0 514.6 501.7 579.6 484.0 552.0 523.6 563.5 464.9 454.4 579.0 540.8 513.7 531.6 503.2 493.4 467.1 566.0 477.5 485.7 451.8 502.2 493.5 525.9 471.1 490.7 435.6 547.1 534.8 571.1 528.1 539.0 468.2 518.6 463.5 514.2 471.2 564.8 452.2 503.7 488.6 558.1 470.6 506 412 553.9 462.3 529.3 486.0 536.2 470.0 516.0 451.6 559.5 462.0 542.8 508.7 511.8 484.2 532.6 462.4 599.1 514.8 528.5 503.4 490.6 444.4 489.0 465.3 601.1 473.1 580.2 439.9 564.9 484.5 532.0 471.9 562.6 516.6 562.9 511.0 518.7 458.5 505.2 487.2 500.5 470.9 522.6 486.3 552.9 462.7 513.4 498.1 523.8 488.6 515.3 491.6 516.4 486.3 511.3 472.8 562.1 460.2 513.9 483.2 512.0 465.4 489.2 495.3 539.8 474.3 533.1 500.4 527.0 449.4 555.7 491.0 532.7 466.7 528.8 462.5 518.3 481.2 528.1 480.8 520.6 470.3 526.2 486.5 569.9 481.0 519.9 462.0 496.4 475.7 531.8 467.6 539.2 521.4 518.3 459.9 531.4 508.5 543.1 460.8 511.5 486.1 576.5 459.8 566.7 498.1 526.2 456.7 542.8 483.6 559.9 462.7 559.3 481.4 634.5 471.4 504.0 455.7 552.9 561.9 525.2 477.2 558.7 475.7 542.5 466.4 492.9 478.9 515.0 482.1 484.7 477.9 527.3 500.7 473.5 446.9 516.8 453.9 495.4 460.0 544.2 484.0 521.9 453.2 504.1 467.4 513.7 490.5 529.3 495.8 502.6 532.1 530.6 507.9 545.9 465.1 530.6 519.8 525.1 462.9 480.1 492.7 514.7 522.5 544.1 463.2 544.8 490.7 490.5 475.6 483.1 417.8 528.2 452.9 532.3 473.8 552.8 537.1 547.6 484.4 510.0 474.9 539.7 475.7 508.4 485.0 547.3 470.0 539.2 494.0 523.7 492.9 569.7 497.8 507.3 489.7 541.9 483.9 565.8 470.4 525.7 478.5 514.6 489.5 559.7 434.3 518.1 463.9 505.6 455.6 546.3 482.4 558.7 505.3 524.6 488.8 557.5 532.5 513.1 483.7 532.8 474.9 535.5 464.7 535.2 528.9 540.5 443.2 533.1 509.5 560.0 431.5 529.7 489.2 547.7 442.9 556.7 456.7 513.1 493.9 543.7 478.9 543.0 473.4 517.0 437.6 553.9 470.9 522.9 506.8 542.3 454.1 532.6 540.8 513.8 494.0 532.8 502.5 526.8 463.9 520.5 532.3 547.2 455.5 520.4 460.9 540.3 546.8 525.9 442.6 488.1 491.7 637.7 495.2 490.0 458.1 555.5 459.4 517.2 485.0 512.7 484.5 477.6 520.4 556.5 537.7 546.9 547.1 487.0 531.1 538.5 493.8 514.9 443.6 563.6 473.5 541.9 500.7 494.5 463.7 556.3 477.7 556.3 483.2 559.7 423.3 539.3 481.2 508.8 474.4 495.2 474.1 537.7 445.6 561.0 485.5 542.7 546.3 557.9 482.8 558.0 547.3 556.2 512.3 528.5 492.8 524.7 496.0 533.0 478.8 517.3 505.9 547.0 440.4 546.1 502.6 480.0 489.5 534.3 504.4 550.0 526.2 514.6 477.7 502.1 462.9 504.0 477.7 607 445 544.6 520.0 546.2 459.5 558.1 456.2 542.9 468.1 539.9 486.5 563.3 455.5 566.7 507.2 508.7 502.0 500.5 508.0 539.1 509.3 538.8 436.1 550.6 483.0 500.6 527.2 513.1 531.4 565.3 461.3 548.7 451.3 500.8 483.0 555.9 475.0 589.7 528.6 532.5 489.2 550.1 510.3 516.1 440.7 544.3 525.6 571.0 479.4 521.6 464.1 545.0 470.8 562.4 527.0 525.8 438.7 509.2 454.5 505.3 497.3 558.8 503.2 510.7 509.9 493.3 457.9 539.1 457.1 524.5 499.4 520.6 471.5 553.5 498.3 511.2 506.3 546.3 554.9 497.8 463.3 551.3 467.7 540.4 425.0 517.5 484.1 502.5 465.7 563.4 521.0 435.5 556.6 554.9 520.5 507.5 483.2 537.7 502.6 525.4 470.9 540.1 475.8 530.0 456.0 527.5 466.7 503.5 490.4 501.4 513.2 530.7 517.9 564.1 549.5 564.7 449.4 566.3 498.5 526.9 514.3 538.1 518.6 529.0 505.4 622.3 483.1 538.3 527.0 495.5 600.2 535.6 508.7 518.5 524.7 511.9 492.2 546.1 509.8 514.5 525.6 510.0 481.3 580.9 485.0 529.9 467.1 553.7 541.4 548.2 468.4 517.0 472.6 521.3 456.9 509.9 525.3 495.1 467.2 567.9 499.2 570.0 541.3 528.4 581.6 528.0 530.0 536.2 453.8 544.3 480.4 479.2 464.6 554.3 489.1 514.4 511.5 549.4 481.2 578.6 402.9 508.6 479.0 525.1 481.1 518.0 464.3 489.5 433.1 542.7 459.8 599.1 515.0 521.6 504.2 570.9 494.0 533.0 477.0 570.3 458.4 459.9 560.1 517.1 494.1 557.8 476.9 514.7 484.7 534.6 518.7 541.4 468.7 541.5 495.9 573.9 468.7 539.7 490.7 544.9 509.8 552.7 533.0 509.3 464.5 546.1 495.8 520.1 474.8 423.9 453.9 521.4 489.0 511.1 469.9 581.0 530.2 498.7 490.6 542.0 472.0 568.6 450.7 541.0 478.9 502.0 519.0 572.3 468.4 538.4 496.2 531.7 482.2 535.1 469.9 517.3 482.3 443.7 482.8 540.2 485.3 507.4 491.4 516.6 447.7 555.2 520.6 584.7 508.1 515.5 513.6 545.7 455.7 495.6 484.0 536 417 549.0 495.9 538.8 449.0 559.8 484.5 517.8 458.3 455.7 510.2 541.6 477.8 555.1 498.0 585.8 486.7 529.1 529.1 522.0 516.7 542.2 476.0 530.6 442.9 559.4 496.9 559.2 512.3 548.1 500.8 500.3 432.4 518.1 457.9 553.8 458.4 525.3 448.1 478.5 495.8 557.7 505.7 524.0 486.6 490.3 470.4 567.4 444.9 568.6 480.3 470.3 524.8 530.8 455.0 542.0 514.3 531.2 508.3 544.3 492.2 539.7 485.1 535.1 499.7 523.9 488.2 473 552 506.2 462.4 544.9 465.8 553.8 493.9 504.6 493.9 533.4 518.2 524.7 513.0 553.0 507.4 528.5 495.1 504.8 479.4 525.0 448.4 509.9 499.0 511.0 489.3 562.6 493.4 498.4 513.1 535.9 508.0 531.4 470.1 539.0 444.0 537.2 454.3 556.7 505.2 559.7 483.9 550.0 455.2 528.7 495.9 527.5 477.1 528.4 489.2 537.4 507.8 510.5 439.4 511.8 461.2 514.4 467.5 516.2 481.4 532.6 482.1 540.6 480.6 552.5 516.2 545.2 511.7 525.6 479.7 527.7 531.4 531.9 486.0 535.4 459.6 527.7 497.0 527.7 493.4 556.6 471.6 559.3 450.6 542.4 447.2 553.0 532.2 530.0 510.6 578.3 454.6 549.3 466.1 499.1 498.2 532.4 474.1 497.6 483.2 553.3 513.4 547.3 504.9 528.9 450.8 539.9 492.6 511.2 451.9 570.4 539.2 566.5 497.0 559.8 477.0 567.3 506.3 521.8 474.8 555.1 458.6 477.6 400.1 565.9 476.4 548.9 477.3 537.7 434.0 540.2 459.9 531.1 471.0 510.3 511.7 549.2 472.7 494.0 459.7 502.1 488.7 512.7 493.7 595.8 481.1 497.1 475.3 560.3 481.4 492.3 461.9 549.4 470.8 499.8 491.8 556.3 494.4 538.7 487.3 533.0 435.6 521.7 504.3 509.0 451.0 532.6 483.4 538.8 497.0 543.5 528.5 529.6 528.0 555.7 448.3 507.6 481.0 500.5 443.4 589.3 498.3 541.3 495.5 525.1 496.4 533.1 487.3 479.6 501.1 511.6 477.7 565.4 483.9 548.4 508.9 475.4 484.8 520.5 499.0 496.0 467.0 573.2 511.9 571.6 507.0 520.6 493.1 530.6 461.1 523.3 504.7 536.4 475.4 566.8 510.0 511.7 478.5 566.1 500.6 607.7 542.7 495.2 478.3 529.0 520.0 536.3 471.5 535.2 498.7 521.2 490.2 515.3 519.5 541.8 513.1 492 408 554.8 490.9 524.7 513.0 548.6 531.7 570.7 469.9 567.8 500.5 533.5 528.9 555.9 454.5 529.5 491.3 572.4 485.8 556.6 528.8 504.3 480.1 598.6 507.0 534.5 517.6 536.4 491.4 547.5 452.4 511.2 427.2 546.5 448.3 570.5 483.8 540.1 455.7 551.3 468.4 531.4 510.5 586.1 491.6 524.5 454.0 515.6 475.0 540.6 523.9 470.8 501.5 550.8 447.9 603.4 522.0 525.7 466.3 523.2 504.0 594.5 476.5 522.4 472.0 518.3 479.0 530.1 397.9 590.6 453.9 511.3 500.3 551.9 525.0 569.5 531.5 528.7 501.0 518.6 499.3 530.9 519.8 526.0 452.3 602.6 466.7 548.6 460.9 548.8 452.9 558.2 479.2 524.3 508.9 511.8 542.8 532.7 509.4 500.1 487.5 501.8 503.0 555.9 472.4 500.8 499.1 498.2 503.7 526.1 469.2 556.3 477.5 546.6 480.8 523.3 465.8 504.3 445.7 503.5 475.5 572.7 491.2 506.2 457.2 647.1 367.5 502.8 499.5 551.7 490.3 540.1 535.2 543.2 475.3 457.2 472.6 491.9 500.9 514.6 467.1 547.3 474.9 543.3 525.2 513.2 464.5 524.5 494.7 552.2 475.3 519.9 510.9 582.7 469.5 566.1 514.0 548.2 442.8 527.4 491.9 560.2 529.6 503.3 465.0 560.1 488.1 477.7 533.1 559.5 503.5 487.6 495.2 437.9 575.2 483.0 471.5 480.9 478.2 537.9 506.0 530.1 463.9 532.6 487.2 508.8 460.4 542.1 511.3 532.7 501.6 488.0 462.2 504.2 445.6 573.3 482.2 553.2 470.9 523.8 515.8 524.8 525.3 576.0 488.3 506.3 519.7 551.0 496.9 515.9 535.7 568.9 476.7 511.5 482.3 520.0 498.2 537.1 485.4 576.5 495.5 552.6 466.3 507.3 508.6 504.5 448.0 551.8 464.0 514.6 503.9 498.1 478.2 540.4 461.6 489.2 487.5 525.5 488.6 506.4 525.8 530.8 495.8 552.0 493.6 524.8 522.1 525.9 451.8 504.9 455.1 566.5 474.5 530.0 549.6 516.8 493.6 466.6 515.3 551.9 449.7 522.6 459.5 663.2 446.6 505.4 478.2 558.7 449.4 505.3 467.5 490.0 490.4 543.7 526.2 593.5 463.1 536.7 457.2 534.1 512.5 528.9 520.9 542.2 484.7 468.8 451.4 545.5 511.0 488.4 456.3 549.1 489.2 529.5 458.8 544.2 509.1 572.4 462.5 490.2 466.1 522.8 466.1 526.5 494.5 512.8 502.1 527.3 432.5 588.5 407.7 522.9 517.8 531.5 473.8 492.6 499.2 538.0 510.4 549.1 459.6 528.8 500.4 525.9 475.0 490.7 484.7 559.6 540.0 533.3 470.0 513.3 503.4 521.2 457.4 530.5 472.6 594.7 519.5 544.4 495.7 507.8 512.1 509.3 457.9 534.1 468.0 558.9 468.1 539.7 529.7 511.2 484.0 556.1 491.5 507.0 484.2 523.4 504.6 544.1 527.8 555.4 444.9 552.4 475.9 532.7 496.2 500.4 509.9 519.6 479.4 522.3 503.1 523.9 471.6 516.4 543.6 536.6 492.6 550.3 478.7 527.1 487.9 548.6 476.7 535.1 528.8 520.7 478.8 487.5 502.3 570.0 501.4 513.9 486.4 547.7 517.2 479.7 509.0 538.9 462.3 501.1 452.9 565.9 494.3 496.8 491.1 550.1 522.3 579.0 487.6 541.9 486.6 517.3 500.8 492.2 513.9 556.5 479.5 569.0 435.1 560.3 487.1 555.4 513.2 512.5 502.2 493.0 506.9 531.2 488.5 527.0 453.1 524.6 482.6 506.6 495.6 546.0 468.1 517.2 454.4 503.6 472.4 524.1 518.6 550.8 526.2 526.2 498.9 540.0 507.2 532.3 413.4 562.8 502.8 516.1 499.7 525.4 470.1 492.4 478.2 538.4 448.5 550.6 497.3 525.6 468.8 572.6 494.0 538.9 488.0 483.2 507.7 520.1 479.0 589.3 475.2 537.7 498.3 536.4 472.3 519.0 519.2 545.2 464.9 509.9 518.5 467.7 363.1 492.5 503.5 558.3 453.3 527.4 492.7 485.9 403.4 538.1 469.4 544.2 480.6 545.5 464.5 552.4 482.4 561.9 457.8 547.2 545.9 553.4 514.3 548.7 479.5 542.2 462.4 532.8 466.3 499.5 478.3 564.3 516.3 535.4 463.1 504.5 488.9 516.1 515.3 558.0 502.7 578.6 483.0 519.0 487.3 532.8 502.8 503.0 465.4 575.4 464.6 551.8 473.1 544.8 564.5 516.8 514.7 501.6 468.1 536.3 497.2 496 560 489.0 475.5 572.8 464.1 546.3 461.0 536.8 519.2 558.9 491.3 512.0 511.5 556.7 492.9 535.9 475.8 501.9 528.8 487.6 514.5 573.2 497.8 544.1 517.7 516.9 457.5 561.6 515.7 550.6 469.9 540.8 511.2 550.0 491.2 515.2 450.7 563.4 508.4 516.9 447.5 570.7 523.1 548.0 481.4 559.8 496.2 535.7 518.1 544.0 476.2 500.3 478.0 539.1 455.3 484.9 465.3 529.8 446.2 573.6 484.3 514.7 510.4 511.2 507.5 577.8 489.1 543.6 461.4 500.9 483.8 507.2 468.6 536.6 516.9 561.3 503.8 544.5 466.5 552.0 478.4 551.2 465.6 522.4 486.2 538.3 464.2 538.7 478.5 506.0 482.9 522.6 478.5 527.8 483.8 525.8 470.5 547.4 487.2 540.1 448.0 523.6 480.5 538.9 511.2 532.9 508.2 496.6 427.2 552.8 467.4 592.8 485.7 555.6 494.4 517.3 507.3 492.4 468.9 485.3 472.1 525.1 448.7 518.1 400.3 527.7 497.4 523.5 489.4 551.6 504.6 550.1 521.3 512.8 505.8 476.4 479.5 506.3 518.2 531.7 481.3 538.3 518.7 546.5 481.7 549.7 505.5 501.5 583.8 510.2 463.7 552.8 457.5 584.7 365.3 552.8 477.6 507.3 491.5 539.4 518.6 530.3 466.5 542 394 521.7 505.4 598.3 432.4 561.0 464.9 550.1 465.9 554.8 488.8 484.0 517.5 533.8 477.2 535.4 486.5 508.6 509.4 554.3 489.9 555.0 434.3 510.0 467.7 563.4 515.1 568.2 452.5 509.1 464.3 490.4 540.1 544.3 472.1 484.8 490.5 495.9 476.6 538.1 489.2 573.0 475.2 550.1 467.8 549.8 521.7 510.7 440.9 513.4 461.6 522.2 515.0 542.3 473.0 511.9 497.0 543.9 453.1 493.5 516.4 557.5 473.7 528.1 496.1 491.9 476.2 511.4 457.5 523.8 453.2 529.1 471.7 545.8 443.1 543.7 510.9 564.9 546.1 574.1 497.5 541.0 498.0 488.3 476.2 523.0 474.7 513.3 538.2 550.7 479.9 534.6 512.1 549.6 495.0 548.7 486.9 547.6 463.0 523.5 464.6 534.0 470.4 465.9 452.1 529.0 503.7 520.0 489.3 490.8 479.3 521.7 471.9 534.6 445.2 506.0 509.5 511.6 475.1 533.1 470.8 559.1 480.8 521.7 493.9 423.6 444.8 516.2 473.6 544.5 480.1 491.8 506.7 522.0 509.1 602.6 495.9 528.4 450.0 557.6 439.7 583.2 418.9 490.1 474.7 511.9 537.5 525.9 505.6 546.5 493.6 547.9 487.2 497.6 515.5 559.7 457.1 504.5 420.0 544.0 494.1 556.6 515.2 532.9 477.9 502.6 459.7 513.5 462.9 494.8 457.3 528.8 460.0 551.1 493.9 507.2 482.7 557.2 483.9 550.4 472.9 534.7 444.3 457.9 479.9 503.2 490.0 547.2 456.8 526.8 493.8 506.3 488.8 504.9 470.4 518.9 469.0 522.4 480.4 558.0 477.2 540.9 466.7 549.2 489.2 534.4 478.9 536.2 437.8 550.1 495.2 519.5 443.7 540.3 450.3 547.8 476.2 529.6 495.7 558.1 472.9 545.6 472.4 507.0 448.0 556.1 472.0 563.8 486.1 494.7 456.1 542.9 428.9 531.7 463.8 550.8 508.2 560.5 485.9 522.7 495.2 537.9 498.2 544.4 472.0 524.4 484.2 491.2 500.0 525.5 488.0 519.1 467.5 502.7 544.1 539.6 504.5 540.2 472.8 561.4 475.1 557.1 519.0 518.9 452.8 512.4 491.0 540.3 488.0 569.5 520.4 538.0 469.5 582.0 450.2 527.1 519.9 517.9 491.3 517.4 495.9 540.5 477.2 539.7 472.0 519.7 491.9 570.9 491.8 491.0 486.8 539.1 521.3 486.9 434.5 550.7 504.4 550.6 533.6 544.1 470.0 550.1 475.1 535.2 514.5 545.6 461.8 560.3 469.5 524.8 496.7 553.6 500.6 498.9 492.6 532.1 494.9 579.2 435.0 554.4 512.9 536.4 421.0 564.0 500.5 507.6 501.9 562.0 492.9 560.7 453.0 565.0 473.1 506.7 519.5 538.6 476.1 513.3 480.5 492.5 475.2 500.3 453.1 531.5 495.9 556.7 514.1 539.6 472.7 541.5 446.3 509.4 475.3 550.2 538.4 521.1 441.9 503.9 408.0 536.4 506.1 520.1 474.7 559.1 515.7 520.5 487.2 551.2 482.2 536.8 468.9 516.6 475.0 532.7 461.0 561.9 506.0 565.9 500.8 541.2 454.8 549.1 496.2 560.1 511.1 535.5 470.1 524.0 482.5 523.2 490.2 514.2 470.2 553.1 477.4 561.1 499.1 536.1 461.2 595.0 492.4 451 490 531.7 508.0 548.8 455.5 502.6 509.7 493.8 486.3 521.6 490.3 600.9 453.3 507.1 494.8 543.8 473.4 521.9 453.5 514.7 472.1 535.0 436.8 513.4 508.5 551.7 490.7 529.6 505.8 511.5 510.2 536.8 486.0 589.5 493.0 512.5 503.9 540.4 481.8 557.8 478.4 530.4 476.8 562.0 541.4 514.1 496.0 522.6 460.0 508.8 454.0 524.6 454.9 593.9 465.0 512.5 525.5 506.8 498.4 527.8 524.6 504.1 486.7 566.2 477.9 529.6 468.5 519.9 478.6 499.1 449.2 523.2 492.5 567.4 489.4 542.0 475.3 500.8 470.4 533.2 563.0 523.7 450.6 496.1 475.9 554.1 475.6 565.2 460.2 552.1 428.6 531.2 493.3 541.4 476.4 527.1 493.3 566.3 409.5 542.4 445.9 491.5 481.1 564.9 512.8 493.0 456.8 528.0 447.3 546.6 462.4 527.0 475.1 548.8 478.1 517.5 496.3 533.9 493.2 518.1 541.9 559.5 504.5 532.8 478.3 468.8 504.4 514.5 508.0 520.0 494.6 522.5 519.1 512.7 477.4 532.8 454.3 641 443 560.4 450.3 547.1 496.5 517.7 511.8 534.7 483.1 487.6 507.4 521.7 509.9 533.6 455.8 498.2 485.6 518.7 445.3 495.5 474.5 540.8 471.6 552.8 512.0 577.5 481.6 527.0 459.4 552.6 499.8 554.5 474.2 520.2 428.7 529.6 491.1 521.1 466.4 512.5 477.6 476.3 500.4 549.3 484.3 538.4 480.7 536.1 462.5 552.6 517.2 518.9 517.7 522.4 487.8 556.1 493.7 504.6 497.9 477.8 459.3 558.3 494.8 559.0 472.6 543.2 457.1 521.1 480.1 549.1 490.7 511.6 523.1 538.7 494.4 494.9 482.6 530.3 475.9 550.4 488.9 529.8 504.3 538.5 500.3 513.2 459.4 546.8 478.0 487.5 495.4 538.1 475.3 549.5 532.8 507.1 501.3 544.3 481.5 513.6 461.6 532.3 457.4 556.4 465.3 565.2 425.2 543.3 471.8 528.4 504.8 556.8 475.1 597.3 444.1 531.6 478.3 515.1 456.5 538.7 511.8 533.3 469.3 519.8 471.7 529.2 481.3 550.1 473.9 542.7 465.3 517.4 482.9 525.5 454.7 488.8 484.4 582.7 470.5 511.1 506.2 502.6 507.3 567.7 467.7 520.9 515.5 542.8 477.2 469.3 346.4 528.0 478.6 465.5 422.2 529.2 506.4 499.2 517.2 542.7 504.8 569.0 439.4 516.3 485.0 548.4 470.4 525.0 444.0 563.0 464.5 522.9 502.3 546.0 505.6 560.1 421.5 509.7 497.6 556.3 431.1 511.9 489.4 528.0 506.7 515.8 487.9 516.4 514.2 521.7 469.6 527.0 506.8 546.4 458.0 514.0 453.5 504.4 437.1 529.9 474.4 512.5 499.1 556.4 464.5 560.1 492.5 498.0 483.4 538.7 487.0 545.9 487.1 503.1 497.5 553.0 501.1 512.3 491.9 534.2 523.2 491.9 517.5 594.4 481.7 553.3 484.8 529.0 453.0 546.9 489.3 557.0 462.5 531.6 480.8 538.5 459.3 519.5 489.2 502.3 391.3 532.6 476.9 524.8 504.7 555.3 511.5 504.4 521.3 527.7 497.0 510.7 479.5 509.8 513.7 504.3 509.6 537.5 527.2 523.9 493.4 543.8 446.2 502.8 471.6 513.7 429.9 540.3 499.9 516.4 479.9 507.9 459.2 546.4 471.5 531.3 479.3 523.0 507.3 521.1 482.3 534.7 494.8 534.2 480.6 507.6 494.1 597.8 424.9 553.8 479.1 495.7 486.0 507.3 504.6 512.6 510.7 527.4 515.6 577.1 498.1 537.7 495.1 593.5 404.0 538.8 477.3 564.3 484.8 589.6 475.4 550.2 501.2 469.7 593.2 552.8 463.8 505.5 494.0 561.5 504.1 511.9 446.4 530.7 477.7 522.3 504.9 588.9 458.7 516.8 491.8 552.1 527.7 468.6 573.3 541.6 481.9 533.2 502.3 509.8 453.1 544.7 482.9 479.3 459.3 541.8 500.0 529.0 514.0 606 490 504.5 502.1 505.7 460.1 529.6 499.8 524.5 511.5 533.2 529.5 544.4 473.7 553.9 484.7 529.0 457.3 549.6 499.3 545.7 477.4 513.3 488.3 522.3 473.9 523.4 464.9 547.7 472.8 568.4 514.5 537.6 476.3 629.9 458.4 492.7 476.5 516.0 506.3 575.5 509.4 564.6 462.4 547.2 521.5 538.1 446.5 600.6 486.7 548.4 467.3 502.9 448.9 498.7 518.6 575.4 480.0 494.3 469.5 545.6 494.2 556.4 488.5 555.0 479.6 549.2 454.0 473.4 477.6 516.6 504.3 548.7 484.7 545.1 464.2 555.9 464.2 506.3 458.9 499.6 501.0 507.7 490.6 537.3 486.2 539.1 507.5 517.0 474.0 487.9 459.8 528.3 505.3 618 459 498.8 497.9 524.1 470.7 577.9 483.0 516.7 515.1 538.9 491.9 515.6 510.7 499.4 469.3 545.8 485.9 490.0 499.7 505.2 482.7 568.9 480.5 547.4 506.6 577.3 491.2 517.5 499.6 503.4 479.2 504.9 476.9 480.4 522.1 549 392 525.3 518.7 497.6 475.9 536.8 489.7 503.7 532.9 530.4 481.9 528.0 510.9 525.8 502.3 563.5 470.0 519.2 510.8 532.2 476.1 545.7 521.8 558.0 488.9 523.8 420.6 505.4 512.0 513.7 463.7 554.7 484.3 512.7 458.0 509.4 458.2 555.6 472.9 499.1 478.5 548.8 513.7 555.0 476.7 538.4 496.0 524.2 515.0 525.5 437.7 519.6 466.5 556.8 487.6 541.4 456.8 527.4 482.0 543.3 456.1 497.0 500.7 533.1 486.9 515.1 445.0 499.6 525.2 521.8 499.4 527.5 496.0 558.4 494.3 540.9 475.4 530.0 445.8 542.8 477.0 561.8 509.5 567.1 478.5 585.7 497.7 504.2 472.4 511.1 489.5 574.7 502.8 496.3 454.8 533.8 451.7 545.0 471.0 523.5 482.8 539.7 530.4 524.7 470.7 575.0 511.6 517.9 485.3 478.7 505.0 545.6 507.8 535.5 460.9 514.0 504.6 511.8 488.5 524.8 468.4 514.8 487.6 541.4 456.0 480.5 480.1 557.1 467.5 514.2 449.5 532.0 478.3 508.1 502.0 509.9 536.3 524.9 473.3 504.5 481.0 556.0 486.9 533.0 495.5 504.3 486.0 504.9 495.4 502.2 476.2 521.0 466.3 523.9 509.8 487.1 525.9 486.9 528.4 497.7 460.2 521.7 472.6 540.7 497.8 518.4 465.7 509.7 510.9 520.1 479.5 580.1 515.6 532.6 465.4 553.6 472.3 500.3 506.6 518.8 488.9 535.1 493.3 495.8 515.4 520.1 493.6 539.4 490.0 528.6 482.3 447.2 518.7 530.4 461.7 521.9 479.9 534.2 479.9 550.0 455.4 516.7 524.5 563.2 472.8 525.3 501.9 575.7 499.9 537.1 461.4 529.9 514.5 544.0 504.8 513.9 501.5 591.6 506.8 497.3 445.0 502.3 483.3 621.9 555.9 558.5 475.6 579.3 483.1 521.7 487.5 504.2 490.6 530.2 460.4 557.9 535.2 536.4 484.2 482.4 484.4 507.4 480.8 554.5 487.3 512.8 467.9 517.3 486.9 531.4 523.2 545.5 493.0 523.1 500.2 511.3 480.0 555.4 478.0 514.8 527.5 536.3 505.7 499.4 483.6 521.0 512.7 542.4 502.3 532.7 487.2 533.8 475.1 558.7 494.0 551.1 503.3 546.5 485.5 537.8 484.1 561.6 465.2 548.0 517.3 484.1 485.1 483.4 505.2 550.5 474.0 528.5 467.9 536.9 491.8 512.0 473.6 530.5 512.4 531.6 501.1 548.1 476.6 500.8 526.8 526.9 490.7 533.1 468.9 575.6 467.7 535.7 484.8 524.8 500.1 541.8 511.9 496.1 491.8 477.3 441.5 518.5 478.3 520.2 510.3 525.4 487.4 515.6 491.9 562.3 496.8 562.6 503.6 555.3 443.0 534.7 540.6 525.1 500.2 531.3 461.3 542.4 486.6 549.3 461.3 524.5 461.0 553.1 494.1 522.7 488.3 559.6 485.2 507.0 449.1 571.7 444.7 563.3 490.7 534.9 460.0 554.9 491.1 522.3 508.5 506.1 492.0 564.9 482.5 516.1 470.2 548.6 455.0 511.8 529.9 530.9 526.7 572.3 507.0 533.6 467.7 539.9 496.5 504.3 459.5 489.7 487.8 497.2 496.7 553.0 502.2 498.6 494.2 563.8 475.7 563.6 526.2 525.6 499.2 521.7 454.4 515.7 442.4 492.1 498.5 553.7 470.1 494.0 488.1 531.3 467.0 500.3 464.0 513.2 494.9 522.6 527.5 499.2 481.3 522.6 488.9 552.2 487.9 544.0 474.9 538.5 477.0 528.6 517.3 526.1 454.5 530.4 421.9 507.9 493.6 570.2 444.0 504.9 535.5 593.0 481.6 530.0 488.3 521.5 500.2 568.2 563.6 514.1 517.9 515.0 536.2 560.3 540.4 505.6 475.8 543.9 499.7 603.6 415.0 552.8 474.7 553.3 493.5 486.3 504.0 595.2 513.9 492.4 489.5 504.9 507.9 584.5 475.4 576.4 439.4 516.3 385.9 552.0 490.3 544.6 465.7 501.8 471.0 535.8 513.2 511.7 500.5 615.3 526.1 559.3 504.8 547.5 498.7 514.0 473.8 529.0 514.7 546.6 520.9 479.6 481.1 577.5 453.9 533.7 549.0 538.6 474.2 544.2 535.2 535.5 478.5 502.6 492.1 526.0 499.0 534.6 527.2 501.8 470.9 554.9 487.6 550.2 499.8 506.0 460.8 552.0 440.3 549.9 517.2 577.3 504.1 533.2 473.4 531.0 438.6 534.9 480.8 497.8 475.2 517.4 487.7 497.4 494.0 517.8 468.5 533.7 433.6 542.0 505.6 526.7 452.3 533.8 521.4 510.9 496.0 488.2 455.3 532.5 482.7 531.6 484.4 509.6 489.6 451.3 497.4 592.5 483.0 517.0 485.6 561.0 460.9 491.1 474.7 530.0 492.5 668.2 433.9 563.8 465.4 484.4 487.2 572.4 507.8 557.1 467.3 545.9 454.9 516.5 490.8 559.8 495.6 570.0 516.5 550.8 495.7 525.3 502.2 505.6 505.0 524.4 521.3 525.0 462.3 510.5 488.2 490.4 473.3 524.1 496.7 562.5 486.1 570.7 538.9 565.0 490.7 522.7 520.3 569.3 487.8 537.8 503.1 513.6 468.2 453.9 441.2 541.9 467.9 564.3 454.5 543.2 468.5 554.8 473.5 531.6 494.7 547.1 491.7 583.5 458.1 486.2 442.5 517.3 496.5 534.1 449.0 547.5 521.0 470.8 560.8 502.2 456.0 502.3 541.5 514.4 480.6 528.2 445.3 555.3 480.5 540.2 500.1 528.6 489.5 550.4 487.0 512.3 470.9 537.0 490.0 537.0 500.0 497.5 476.2 564.6 502.5 506.8 498.8 591.9 490.5 584.3 446.4 527.3 477.3 513.2 492.6 517.6 509.4 522.6 506.9 505.6 470.5 527.3 458.8 497.7 498.5 527.9 506.8 469.6 433.9 536.6 486.4 537.0 494.8 519.4 426.2 465.2 440.4 549.2 476.7 517.0 439.9 525.0 490.8 526.0 471.4 563.1 514.5 456.4 474.7 555.5 468.8 538.7 464.2 606.3 476.2 520.9 487.9 539.1 458.4 513.5 478.2 516.7 471.5 581.2 533.8 519.5 499.1 517.8 512.1 549.1 496.7 508.0 520.6 501.4 467.1 544.2 531.6 568.0 489.3 538.3 463.9 527.9 484.6 544.7 492.6 529.1 490.3 531.9 457.5 535.9 468.4 535.2 478.6 535.5 478.3 540.3 497.2 563.6 447.6 494.7 482.9 534.8 488.9 559.6 451.2 544.0 512.1 526.5 524.6 491.7 535.1 545.7 492.5 546.3 443.6 604.4 397.7 546.1 542.6 519.5 453.5 537.6 523.6 513.3 487.3 532.5 442.7 535.7 503.7 518.3 487.5 548.5 519.6 483.5 462.0 527.8 452.7 499.7 464.1 500.9 507.9 537.9 485.2 569.9 515.0 524.4 495.9 549.6 497.7 533.3 473.7 546.4 513.8 525.6 469.3 518.5 501.2 490.0 457.6 524.7 489.5 505.2 520.8 562.6 503.0 570.0 529.8 527.4 488.7 531.8 479.3 529.9 477.3 524.9 493.2 570.9 384.8 507.4 503.0 503.1 457.3 549.3 540.2 541.7 458.3 509.1 475.2 523.1 507.1 530.8 465.3 569.8 504.5 530.6 463.3 558.0 470.7 486.6 457.8 504.2 451.4 526.7 446.5 536.6 450.1 527.4 505.6 518.7 446.2 544.8 491.3 518.2 479.0 536.6 523.3 540.1 447.7 577.6 486.7 562.4 498.8 500.6 535.7 495.0 481.2 549.8 506.5 659.3 478.8 532.4 533.6 514.5 502.4 502.1 492.5 573.8 461.6 519.3 486.2 537.2 464.7 531.2 481.2 567.9 541.6 573.4 492.7 520.4 522.3 535.3 498.7 511.7 478.8 466.6 461.6 531.3 478.0 503.7 474.4 509.3 499.4 483.7 525.2 531.0 495.5 541.8 475.3 528.4 457.9 540.6 503.0 554.7 493.4 575.6 505.3 586.2 446.3 535.2 487.6 548.0 491.3 512.0 468.2 544.1 490.3 527.0 480.9 506.8 465.9 559.7 478.1 534.7 481.4 572.1 534.6 595.5 496.6 508.0 540.1 496.8 476.1 483.7 473.8 579.7 515.8 553.7 475.5 519.0 469.9 575.0 522.5 527.6 507.9 512.7 494.9 595.9 456.3 546.6 452.3 573.3 530.2 542.2 460.5 544.9 494.7 490.1 445.0 536.6 446.9 519.0 472.2 529.5 489.2 494.1 481.8 507.6 482.1 560.2 448.9 535.7 495.4 583.5 523.9 544.6 475.0 548.0 467.0 512.9 466.2 530.3 480.1 536.2 512.9 489.8 499.3 510.0 471.7 520.0 474.8 545.2 512.0 553.1 503.3 526.9 482.8 517.5 454.3 583.7 510.3 540.9 471.2 509.0 495.8 543.0 503.9 523.1 444.7 528.4 501.8 524.4 459.5 539.9 502.5 515.2 489.7 531.4 465.6 546.1 485.9 531.6 451.6 525.6 482.0 571.3 529.6 542.9 484.2 558.0 463.5 592.9 441.6 560.8 541.7 537.3 468.5 525.4 511.4 513.9 428.0 494.3 501.6 537.2 492.1 516.4 497.4 530.1 456.7 608.8 432.0 554.3 462.8 533.0 455.8 516.6 475.2 561.1 494.0 542.0 458.0 544.2 500.4 527.9 475.4 512.8 473.2 525.0 503.9 540.7 466.1 549.8 508.0 566.2 500.2 552.4 481.3 532.2 471.6 534.7 494.9 506.8 498.0 571.5 513.6 544.3 481.0 563.3 463.8 497.3 490.4 505.6 459.3 527.6 509.1 556.6 459.8 525.1 476.8 529.4 525.8 528.8 468.2 591.5 450.0 545.5 517.1 490.7 488.8 519.1 471.6 575.4 518.9 561.5 524.5 554.8 485.5 564.1 445.6 490.2 477.1 521.0 506.9 560.3 513.7 458.5 406.9 503.1 472.9 507.7 516.0 539.1 488.9 554.4 463.9 496.9 499.0 545.5 465.1 566.0 476.9 517.4 501.7 501.0 497.5 541.9 494.6 571.7 519.5 516.5 459.5 541.9 485.9 595.9 545.3 553.1 490.1 562.9 453.7 494.4 492.2 564.9 460.1 530.7 487.6 499.8 537.7 550.4 469.4 571.7 475.2 489.0 488.9 528.9 451.1 603.4 482.0 570.5 518.1 494.7 480.4 523.2 510.8 573.0 470.0 552.8 462.6 489.7 522.5 509.1 554.9 546.3 474.9 485.0 496.9 488.0 474.0 506.1 496.8 577.7 506.5 515.1 535.2 541.3 475.2 496.7 495.1 573.9 456.7 512.4 500.0 547.8 467.4 580.7 504.3 519.1 453.6 491.3 455.0 539.5 530.2 531.5 462.2 525.8 496.4 587.9 473.2 516.3 495.8 511.9 496.0 484.4 480.3 507.0 514.3 542.7 468.8 533.2 513.3 529.2 471.5 553.0 509.3 537.7 515.0 539.6 487.9 519.7 489.4 574.8 523.5 568.4 492.4 525.2 503.4 504.2 512.2 534.8 419.4 511.3 499.4 555.0 460.3 527.2 521.7 541.8 467.9 568.9 477.6 525.0 478.4 560.0 455.3 559.4 483.8 483.4 475.9 577.9 491.7 514.5 466.8 539.2 533.0 539.5 507.0 517.4 496.2 523.9 478.7 576.5 530.5 530.0 522.6 570.7 467.4 544.6 511.5 579.1 488.4 513.0 508.9 515.1 456.2 525.3 522.4 498.5 510.2 530.2 520.7 528.8 470.2 451 511 535.2 513.2 530.5 452.9 501.0 483.2 553.1 483.0 554.0 526.6 543.8 542.6 556.7 469.9 509.9 505.2 547.8 478.9 554.4 504.4 533.8 506.7 558.0 479.8 529.1 498.7 557.5 489.4 500.4 466.0 548.7 462.9 522.2 477.9 495.7 480.7 504.9 531.9 511.8 476.5 536.6 472.1 599.7 477.5 530.5 498.3 548.1 482.3 531.7 471.4 544.2 449.2 523.3 511.5 553.3 475.8 510.8 486.7 514.4 448.4 551.0 488.1 504.7 480.2 524.9 538.2 545.5 489.6 519.1 511.3 541.9 507.4 514.2 513.2 495.1 415.6 523.5 496.6 526.6 500.4 562.6 450.6 534.2 452.6 525.5 435.8 542.3 465.8 528.3 444.2 513.7 500.0 567.7 469.9 497.7 464.5 505.3 476.7 522.7 472.3 510.8 535.5 616.2 500.8 524.9 514.9 603.4 470.4 502.6 490.0 579.1 527.4 530.7 485.2 567.9 475.0 541.4 481.4 541.0 521.0 552.7 495.2 570.4 523.1 533.8 491.7 516.6 486.8 534.5 495.4 596.7 498.2 521.3 468.7 522.0 451.5 558.8 460.1 506.2 462.3 569.3 466.3 513.5 505.7 542.4 473.8 584.9 434.1 587.2 505.0 510.2 500.5 521.8 486.6 534.7 463.1 529.8 497.8 542.6 506.2 509.3 481.8 584.1 548.4 566.6 491.8 519.7 481.4 551.8 559.7 572.3 527.8 536.2 526.7 535.1 460.0 523.7 460.3 580.3 473.6 531.9 488.5 522.7 498.9 630.1 437.8 532.8 490.8 550.0 484.1 524.3 502.9 558.6 497.7 556.8 427.3 539.3 476.5 497.5 539.1 514.2 469.0 540.1 490.9 543.9 468.6 563.7 479.8 632.3 434.9 552.9 459.3 584.4 451.3 565.5 453.0 515.0 448.8 554.9 490.0 568.2 505.0 476.8 442.3 545.1 497.5 506.3 531.6 520.1 431.7 512.3 541.7 528.0 484.2 565.6 473.0 560.2 519.9 487.8 524.4 530.1 452.5 536.5 458.1 538.3 513.4 542.0 497.9 531.2 473.6 567.5 496.4 541.0 512.3 501.5 449.9 497.6 439.1 500.8 449.8 548.4 490.3 569.3 466.4 508.8 490.6 502.1 517.3 548.9 468.0 509.1 438.9 611 477 489.9 465.0 541.5 495.4 524.8 545.8 568.7 531.9 557.4 504.7 494.5 462.2 567.9 468.0 513.6 468.1 594.0 517.7 527.7 561.9 533.9 517.2 506.2 481.3 519.7 532.0 554.4 446.5 597.4 451.8 515.8 488.4 559.8 483.3 530.8 481.3 532.0 480.9 501.9 460.7 533.9 511.1 560.7 434.6 551.5 503.0 534.2 496.5 538.2 509.5 488.5 490.7 531.0 497.9 520.1 505.9 524.7 412.3 517.6 471.3 555.1 507.2 509.8 500.8 503.1 446.6 583.6 448.7 555.2 499.5 522.2 507.8 526.8 483.8 585.4 440.8 527.4 484.6 554.0 481.5 569.0 493.5 556.7 414.5 480.9 506.3 544.7 465.7 498.3 492.7 581.8 527.7 508.5 479.9 516.0 471.1 540.2 478.3 535.8 582.7 517.0 496.1 519.3 500.0 533.5 490.9 521.2 458.4 534.6 462.1 538.3 470.8 572.8 498.7 551.9 529.9 517.2 510.1 523.1 442.0 610.7 462.0 558.2 492.2 530.2 496.3 521.8 459.6 542.8 508.0 522.0 535.6 535.3 461.2 543.9 447.3 557.9 485.0 506.7 486.7 506.2 466.2 554.6 473.8 551.2 487.8 531.7 484.1 577.3 468.3 547.3 491.3 542.3 448.5 520.5 483.6 532.3 538.5 556.2 490.1 526.2 505.7 488.5 466.1 517.3 428.6 541.9 480.6 557.7 500.8 538.5 480.8 514.5 459.2 573.2 519.3 533.3 482.9 500.3 495.5 525.4 504.6 539.7 444.0 543.6 497.5 541.4 515.4 520.3 473.9 491.9 478.7 542.0 469.2 561.3 484.2 509.9 504.5 546.2 495.0 540.1 473.6 498.0 498.7 538.9 503.4 540.6 516.5 546.7 500.0 553.6 597.4 518.7 464.2 498.6 477.6 505.9 505.0 530.1 503.0 510.0 490.5 497.5 483.3 490.7 481.6 519.9 459.4 547.3 483.5 507.3 459.9 565.4 488.6 537.9 486.2 519.3 465.8 558.1 479.0 483.6 447.4 473.8 508.4 536.0 465.3 547.0 478.6 532.9 501.3 509.0 469.1 543.5 478.6 547.6 476.2 530.7 471.8 560.1 504.1 492.1 510.8 548.4 487.2 546.3 456.5 529.1 494.8 550.2 472.0 549.0 487.3 512.8 512.3 498.4 459.9 544.3 475.0 534.6 486.7 509.4 482.3 484.1 478.1 509.2 495.7 524.5 477.2 556.1 478.1 521.9 464.9 540.1 517.1 531.4 475.2 520.2 459.8 525.3 456.7 549.0 497.2 497.9 381.7 539.9 460.7 535.7 527.9 530.4 504.4 540.5 475.8 512.6 417.8 533.5 481.2 479.4 510.3 509.1 454.3 597.4 482.2 540.8 519.1 517.0 507.3 501.3 499.7 550.9 486.3 496.9 479.0 476.7 479.6 544.4 466.3 523.7 475.1 546.2 501.3 539.8 504.5 516.7 487.2 545.4 500.3 541.3 508.8 493.9 481.6 543.2 477.7 497.0 453.5 529.4 447.0 527.3 479.7 538.1 462.7 525.1 480.0 511.2 500.5 513.3 475.0 475.2 465.0 642.8 464.1 490.3 434.3 540.6 491.9 536.3 481.1 476.7 477.6 535.7 505.0 491.9 462.7 557.8 469.3 547.9 450.7 520.0 506.7 576.5 478.2 510.1 491.0 534.1 473.6 532.6 426.2 547.7 446.7 558.8 470.9 581.6 468.4 559.3 486.7 518.9 491.2 527.6 481.3 521.3 470.6 500.9 463.1 542.4 490.0 495.2 472.5 532.0 508.7 507.0 512.5 544.7 485.2 549.9 482.3 499.6 443.3 536.7 473.8 516.7 511.8 541.0 483.8 511.0 509.2 524.5 499.0 521.9 500.9 557.9 500.1 496.1 484.0 674.9 453.3 518.3 500.7 527.7 451.8 497.0 498.3 525.7 481.2 552.2 468.8 535.8 467.0 524.0 474.2 519.5 481.5 536.0 482.3 544.7 528.0 545.9 470.9 580.9 469.6 535.1 512.6 501.9 452.5 587.3 476.6 518.6 488.2 551.2 456.2 534.6 503.6 522.7 474.3 556.0 506.7 518.4 484.8 527.3 528.3 574.0 535.6 484.8 393.1 520.7 490.1 521.6 472.3 570.9 514.5 493.8 498.4 544.4 478.2 521.7 495.6 561.2 442.7 519.7 475.4 540.9 519.1 517.2 492.3 559.5 447.3 574.2 506.1 574.3 455.3 522.3 437.4 540.1 482.5 510.8 466.2 584.1 490.9 488.6 452.2 520.4 473.4 542.8 478.2 566.2 463.3 532.4 454.7 571.3 510.3 490.5 496.7 531.2 435.4 600.0 475.3 557.0 483.5 526.3 471.7 535.9 537.9 530.3 507.4 526.3 458.7 523.7 549.7 512.6 462.9 558.8 466.1 552.0 532.2 522.3 458.8 537.1 569.6 515.7 509.4 543.8 527.8 517.5 506.2 532.7 498.4 555.1 465.3 558.8 464.0 532.0 495.1 647.8 413.9 524.1 478.0 535.4 464.7 552.6 501.2 506.6 484.9 546.9 512.7 532.3 447.6 462.3 466.7 570.7 477.6 545.1 447.2 516.8 514.2 540.1 462.7 530.0 475.8 516.8 524.1 515.6 474.0 494.1 510.8 535.0 466.6 506.5 480.3 548.7 502.3 523.1 470.8 543.9 508.3 514.0 488.8 506.8 466.8 586.6 456.6 528.0 514.5 524.1 508.4 523.9 495.1 525.3 465.8 512.4 459.1 560.1 435.9 596.6 444.1 532.8 452.7 536.9 492.7 550.8 502.3 541.4 511.1 547.4 486.4 524.6 520.3 522.6 502.2 526.0 460.8 549.1 494.9 563.3 501.8 519.0 478.9 537.8 495.3 541.0 501.3 560.7 496.5 532.1 468.8 540.2 471.8 553.2 501.3 533.9 502.7 506.5 459.7 520.5 444.2 509.3 457.9 583.6 404.7 487.3 457.6 545.2 448.2 519.4 517.8 526.3 466.6 517.9 492.4 554.9 498.5 527.3 500.9 523.2 457.1 535.1 537.1 494.8 549.6 549.8 518.3 540.1 454.5 519.3 439.8 394.1 479.9 486.4 495.6 520.8 485.2 506.5 546.8 560.0 496.7 573.9 466.7 554.5 454.6 493.0 476.7 513.6 507.5 520.3 472.5 567.9 453.2 579.9 485.9 566.5 509.0 537.7 464.4 529.7 526.3 510.7 515.6 515.9 484.0 561.6 456.4 529.4 490.9 541.4 495.4 556.1 462.6 532.0 480.9 502.7 495.2 523.3 475.8 534.2 515.5 569.3 533.7 518.8 476.7 527.2 469.3 509.9 450.8 482.1 541.8 539.9 537.3 526.4 493.9 522.0 472.5 508.8 485.5 522.7 488.7 535.6 508.2 540.4 482.9 499.2 487.3 575.6 475.7 500.9 440.2 547.5 441.7 561.1 479.9 570.3 479.4 503.1 517.8 476.9 485.7 557.6 488.7 516.5 503.8 528.9 461.8 515.6 487.4 524.9 491.4 539.3 496.2 490.7 433.1 535.5 439.6 517.6 450.4 442.6 456.9 533.4 475.6 487.3 492.4 520.4 499.2 548.2 470.3 516.1 505.6 520.4 466.6 540.4 447.6 512.9 500.4 522.7 464.3 516.1 458.1 515.2 457.4 558.9 393.5 491.5 521.3 522.4 495.1 491.4 486.2 549.9 503.5 544.8 514.6 509.1 491.2 541.5 485.1 564.7 430.2 545.8 501.9 576.0 464.1 539.1 451.5 582.7 509.6 525.0 502.6 511.7 499.0 525.5 518.8 534.6 452.9 530.6 499.7 506.9 507.7 506.4 452.1 570.5 444.2 534.0 444.2 518.3 516.0 582.4 483.5 546.3 500.7 559.5 470.3 509.6 515.5 537.0 498.6 604.5 515.1 570.7 468.4 512.2 393.5 501.2 542.1 544.7 486.8 533.3 514.1 540.2 491.3 488.2 441.3 604 425 488.3 504.8 497.3 484.7 569.5 451.5 504.4 509.8 503.9 487.4 557.2 506.4 529.4 474.4 518.3 467.9 542.9 510.9 498.0 506.6 518.3 477.6 529.8 495.1 527.4 488.9 552.8 485.7 554.7 460.4 548.3 478.2 527.5 450.2 514.4 472.2 528.8 471.4 531.5 494.3 532.8 492.6 573.2 532.2 527.9 490.3 585.2 510.6 536.4 511.5 561.2 448.7 533.5 500.0 551.3 466.8 542.8 498.7 525.1 511.8 520.2 474.9 522.7 497.2 531.2 485.2 511.9 489.8 530.6 485.6 515.7 476.1 528.9 511.8 558.1 508.0 594.1 470.6 493.0 480.2 537.1 467.7 542.5 440.1 508.7 498.0 548.4 508.6 526.9 449.4 500.1 538.7 516.3 496.9 560.4 454.1 541.3 487.0 520.5 506.8 538.9 518.2 562.2 464.7 505.6 515.5 580.4 549.3 516.8 518.6 546.5 474.4 530.0 469.3 509.7 444.5 487.2 479.4 510.1 494.6 565.0 494.9 534.7 467.7 540.6 466.2 516.8 495.7 477.5 497.3 562.4 502.8 526.6 488.9 561.6 492.9 521.2 473.6 541.5 462.6 532.1 501.3 505.9 505.3 560.2 480.1 554.7 485.0 532.8 518.5 574.8 472.2 427.7 554.7 579.2 486.6 527.8 491.3 510.4 429.9 540.0 475.8 538.4 450.5 536.2 461.1 531.5 515.8 531.3 468.8 537.3 508.5 543.3 524.5 513.4 499.0 524.3 506.0 515.2 473.0 504.6 465.6 512.9 492.8 506.5 442.8 517.4 514.7 552.6 528.8 520.4 483.3 512.4 507.1 503.5 512.5 547.2 535.5 496.8 509.9 514.8 451.1 509.2 523.4 544.9 438.6 579.3 424.3 538.0 485.7 522.9 468.7 555.2 478.4 482.0 483.0 534.2 499.6 522.6 495.5 551.0 484.0 519.8 499.7 530.5 476.4 491.8 481.6 532.5 527.8 519.0 484.0 607.7 442.6 615 487 580.9 466.8 579.8 497.3 517.5 472.4 537.5 478.6 541.6 449.0 548.2 470.9 535.6 476.0 526.6 485.5 510.4 490.0 535.5 523.7 538.7 480.3 526.0 451.3 544.8 505.2 530.9 469.5 509.9 467.9 540.3 463.1 496.2 481.5 551.3 488.7 563.6 496.7 569.6 463.9 542.6 512.8 562.0 447.2 553.8 476.0 538.3 471.4 506.6 489.1 511.8 485.3 470.5 460.0 545.5 517.0 535.7 473.5 504.3 536.3 557.9 505.3 541.1 473.4 486.4 473.9 509.5 509.7 570.5 481.6 452.8 460.1 496.1 496.3 554.0 480.9 513.7 496.3 498.7 453.9 557.9 466.4 542.4 477.7 528.6 457.1 570 581 434.5 489.8 536.2 504.2 593.8 479.9 507.4 584.4 517.9 466.3 514.9 468.7 566.7 462.1 544.3 510.7 550.6 425.5 518.6 490.8 524.2 460.0 555.2 484.4 475.8 513.7 499.6 477.0 527.8 491.4 528.9 541.3 524.1 508.9 538.2 497.4 514.1 458.2 524.1 505.8 514.2 491.8 522.3 476.3 492.3 465.5 551.9 509.6 515.2 475.1 537.6 514.4 501.9 490.1 473.9 512.5 488.4 497.5 544.1 505.7 530.3 528.5 530.6 432.6 503.3 465.0 542.3 497.2 536.7 471.3 556.7 493.9 525.9 516.9 507.9 486.2 508.0 494.6 522.4 487.2 529.9 461.8 532.3 453.6 522.4 471.8 582.7 506.2 539.5 508.0 523.2 512.2 530.4 500.9 500.7 510.2 561.0 491.9 491.1 456.3 519.0 452.0 618.7 475.5 500.0 472.9 491.6 500.6 564.9 480.0 549.0 467.6 537.7 467.8 507.2 504.0 530.8 538.9 487.8 479.8 527.1 484.3 461.5 497.4 523.3 444.4 569.0 453.0 441.1 523.6 523.5 496.9 514.8 492.1 524.1 455.0 502.0 517.0 553.0 496.2 507.5 484.1 512.1 482.5 560.7 459.8 498.2 503.0 511.0 519.2 570.4 547.5 526.6 495.3 529.6 488.9 508.4 492.7 516.6 463.5 550.5 453.3 543.8 498.1 564.4 479.6 521.9 450.4 541.3 485.8 552.2 523.5 559.7 460.7 590.9 368.3 534.9 540.2 550.2 457.7 529.4 431.4 566.4 526.2 495.9 493.1 517.2 483.0 505.9 494.9 549.4 476.0 513.8 473.5 505.6 505.9 504.3 487.4 528.4 501.0 556.4 447.2 547.3 480.9 532.7 482.1 498.0 491.9 519.4 453.2 510.7 494.6 551.7 471.9 529.1 477.9 533.4 490.9 522.2 465.2 532.3 448.3 505.5 523.9 495.5 604.6 490.4 476.0 601.9 488.6 480.0 514.1 494.1 453.1 520.7 487.3 512.8 481.2 536.4 475.3 494.9 494.7 514.7 451.9 506.3 499.6 491.8 497.8 514.8 524.7 527.8 500.5 556.1 466.4 556.6 472.0 485.2 521.9 616.5 463.1 481.5 515.5 584.6 471.9 531.1 478.9 541.7 509.5 547.2 498.5 566.0 481.5 549.8 488.7 558.8 528.6 544.5 473.6 521.3 500.6 531.0 516.1 529.3 488.5 516.6 446.0 506.5 453.2 545.0 494.4 512.3 459.4 528.3 467.4 519.8 525.7 551.8 476.6 556.8 477.3 570.3 506.2 498.5 460.1 506.3 498.7 485.9 462.5 528.3 511.9 497.6 482.2 528.0 496.1 547.4 518.0 555.1 555.3 537.7 467.1 513.1 488.7 562.2 539.5 504.4 490.9 526.3 547.1 565.0 499.7 538.8 508.2 533.3 501.5 527.7 437.2 523.0 481.0 527.2 474.0 444 502 562.6 497.2 511.6 485.2 498.1 465.6 530.0 475.5 520.8 458.1 568.0 450.8 531.8 484.7 493.5 506.4 565.1 423.9 502.2 522.0 504.3 496.0 560.5 484.2 594.2 507.2 534.6 482.7 647.9 493.0 550.9 480.3 534.2 506.4 536.1 498.2 475.0 434.1 528.8 518.7 536.2 474.0 524.1 538.2 546.8 515.6 558.2 495.9 555.3 482.9 581.7 499.2 553.7 469.2 543.2 507.9 524.5 505.6 522.0 476.5 529.4 459.3 515.6 491.8 572.0 502.8 503.5 457.2 515.2 463.4 577.4 488.7 486.8 476.9 558.2 485.9 528.4 481.9 520.0 505.4 505.1 447.7 484.0 425.6 535.1 499.6 518.6 478.7 503.2 472.5 549.3 511.0 532.1 554.2 552.0 494.6 520.1 448.5 555.2 502.8 520.1 451.5 537.1 531.9 594.0 452.7 518.9 511.7 588.0 459.1 576.2 461.8 585.4 492.8 555.5 475.9 519.3 483.9 520.7 495.3 537.5 445.8 535.6 488.8 498.0 509.1 584.8 491.9 524.9 477.1 507.1 465.8 510.3 477.5 541.2 520.9 507.3 448.4 534.8 459.0 619.4 484.2 567.3 481.9 542.9 517.0 494.7 506.0 502.8 476.5 496.2 477.8 498.2 501.7 519.3 496.4 551.5 494.0 532.3 484.4 528.7 487.4 542.6 468.8 487.7 511.5 502.0 491.0 526.8 480.1 549.4 472.7 494.6 472.9 519.7 516.1 538.6 482.3 498.4 492.4 494.8 514.9 539.9 470.5 522.3 486.1 513.4 460.9 601.1 433.3 508.3 499.0 527.2 505.4 489.4 506.5 582.2 569.7 549.3 508.0 508.4 462.9 571.9 508.2 558.9 487.0 497.3 474.6 550.4 469.9 557.7 492.7 525.5 455.2 532.5 538.1 554.9 512.7 552.1 472.7 541.9 527.5 518.1 529.2 567.4 525.5 540.9 473.1 562.3 458.6 531.4 518.7 515.4 450.0 537.2 508.8 558.0 467.3 522 405 553.9 461.7 496.0 486.0 495.3 482.4 550.6 538.1 500.4 576.1 508.1 483.5 537.4 492.9 528.8 464.7 517.1 447.2 514.6 493.2 548.2 482.2 506.6 463.7 507.3 464.9 532.1 461.7 547.3 498.6 495.2 454.5 553.1 544.7 524.9 461.1 564.0 494.6 531.5 480.4 485.1 477.2 491.3 478.9 529.8 465.2 525.9 467.4 549.9 492.3 566.2 505.1 553.2 476.9 526.7 489.2 561.3 407.7 524.1 486.1 506.9 513.9 560.6 560.8 524.5 458.8 524.0 450.4 520.2 447.9 538.1 477.4 490.5 496.3 594.2 477.1 498.1 490.8 525.5 548.2 497.3 454.6 554.7 497.5 477.6 481.0 541.9 450.5 507.2 470.4 490.9 497.0 527.9 493.2 499.3 486.7 487.9 470.7 580.3 505.1 495.7 514.4 524.8 500.0 585.1 510.5 510.2 467.7 564.5 526.7 541.0 491.0 533.9 461.3 589.0 491.4 524.6 467.7 541.8 457.4 522.8 459.2 538.1 489.6 520.4 508.6 541.3 487.5 553.1 475.9 527.5 487.2 515.5 447.5 515.9 430.9 545.1 500.0 533.6 472.3 535.1 462.5 530.2 518.7 531.2 532.7 567.8 493.4 538.6 507.2" fill="none" stroke="none" marker-start="url(#m)" marker-mid="url(#m)" marker-end="url(#m)"/></g>
<rect x="389.5" y="346.5" width="291.0" height="276.0" fill="none" stroke="#8a8a8a" stroke-width="1"/>
<path d="M484.22 452.57L483.08 452.57L483.08 445.29Q482.66 445.68 481.99 446.08Q481.32 446.47 480.78 446.67L480.78 445.56Q481.74 445.11 482.46 444.47Q483.18 443.83 483.48 443.23L484.22 443.23Z" fill="#1f8a2a" stroke="#1f8a2a" stroke-width="0.2"/>
<text x="513.68" y="483.10" font-size="13" fill="#1f8a2a" color="#1f8a2a">6</text>
<text x="496.69" y="495.20" font-size="13" fill="#1f8a2a" color="#1f8a2a">3</text>
<text x="530.01" y="489.10" font-size="13" fill="#1f8a2a" color="#1f8a2a">C</text>
<text x="530.38" y="492.50" font-size="13" fill="#1f8a2a" color="#1f8a2a">4</text>
<text x="526.78" y="501.50" font-size="13" fill="#1f8a2a" color="#1f8a2a">2</text>
<text x="495.19" y="544.80" font-size="13" fill="#1f8a2a" color="#1f8a2a">5</text>
<text x="412.59" y="379.35" font-size="28" fill="#1a1a1a" color="#1a1a1a">D</text>
</svg>
</body></html>
